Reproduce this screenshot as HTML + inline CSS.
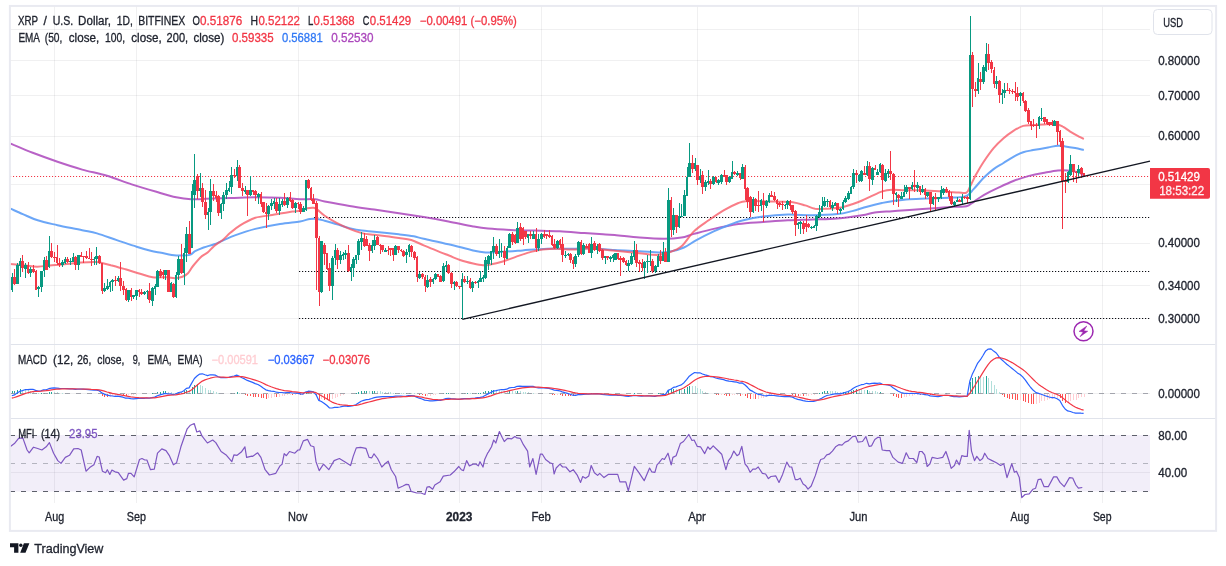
<!DOCTYPE html>
<html><head><meta charset="utf-8"><title>XRP chart</title>
<style>html,body{margin:0;padding:0;background:#fff;}body{width:1226px;height:566px;overflow:hidden;font-family:"Liberation Sans",sans-serif;}svg{display:block;will-change:transform}</style>
</head><body>
<svg width="1226" height="566" viewBox="0 0 1226 566"><g shape-rendering="crispEdges">
<line x1="54.50" y1="6.00" x2="54.50" y2="502.50" stroke="#6a6d78" stroke-opacity="0.1" stroke-width="1" />
<line x1="136.50" y1="6.00" x2="136.50" y2="502.50" stroke="#6a6d78" stroke-opacity="0.1" stroke-width="1" />
<line x1="298.50" y1="6.00" x2="298.50" y2="502.50" stroke="#6a6d78" stroke-opacity="0.1" stroke-width="1" />
<line x1="459.50" y1="6.00" x2="459.50" y2="502.50" stroke="#6a6d78" stroke-opacity="0.1" stroke-width="1" />
<line x1="541.50" y1="6.00" x2="541.50" y2="502.50" stroke="#6a6d78" stroke-opacity="0.1" stroke-width="1" />
<line x1="697.50" y1="6.00" x2="697.50" y2="502.50" stroke="#6a6d78" stroke-opacity="0.1" stroke-width="1" />
<line x1="858.50" y1="6.00" x2="858.50" y2="502.50" stroke="#6a6d78" stroke-opacity="0.1" stroke-width="1" />
<line x1="1020.50" y1="6.00" x2="1020.50" y2="502.50" stroke="#6a6d78" stroke-opacity="0.1" stroke-width="1" />
<line x1="1102.50" y1="6.00" x2="1102.50" y2="502.50" stroke="#6a6d78" stroke-opacity="0.1" stroke-width="1" />
<line x1="10.00" y1="29.50" x2="1150.00" y2="29.50" stroke="#6a6d78" stroke-opacity="0.1" stroke-width="1" />
<line x1="10.00" y1="60.50" x2="1150.00" y2="60.50" stroke="#6a6d78" stroke-opacity="0.1" stroke-width="1" />
<line x1="10.00" y1="95.50" x2="1150.00" y2="95.50" stroke="#6a6d78" stroke-opacity="0.1" stroke-width="1" />
<line x1="10.00" y1="136.50" x2="1150.00" y2="136.50" stroke="#6a6d78" stroke-opacity="0.1" stroke-width="1" />
<line x1="10.00" y1="184.50" x2="1150.00" y2="184.50" stroke="#6a6d78" stroke-opacity="0.1" stroke-width="1" />
<line x1="10.00" y1="243.00" x2="1150.00" y2="243.00" stroke="#6a6d78" stroke-opacity="0.1" stroke-width="1" />
<line x1="10.00" y1="285.50" x2="1150.00" y2="285.50" stroke="#6a6d78" stroke-opacity="0.1" stroke-width="1" />
<line x1="10.00" y1="318.00" x2="1150.00" y2="318.00" stroke="#6a6d78" stroke-opacity="0.1" stroke-width="1" />
<line x1="10.00" y1="393.50" x2="1150.00" y2="393.50" stroke="#6a6d78" stroke-opacity="0.1" stroke-width="1" />
<line x1="10.00" y1="472.50" x2="1150.00" y2="472.50" stroke="#6a6d78" stroke-opacity="0.1" stroke-width="1" />
</g>
<rect x="10" y="435" width="1140" height="56.5" fill="#7e57c2" fill-opacity="0.1"/>
<g shape-rendering="crispEdges">
<line x1="10.00" y1="344.50" x2="1216.50" y2="344.50" stroke="#e0e3eb" stroke-width="1" />
<line x1="10.00" y1="418.50" x2="1216.50" y2="418.50" stroke="#e0e3eb" stroke-width="1" />
</g>
<line x1="314.00" y1="217.50" x2="1150.00" y2="217.50" stroke="#0c0e15" stroke-width="1.1" stroke-dasharray="1.2 1.8"/>
<line x1="299.00" y1="271.50" x2="1150.00" y2="271.50" stroke="#0c0e15" stroke-width="1.1" stroke-dasharray="1.2 1.8"/>
<line x1="299.00" y1="318.50" x2="1150.00" y2="318.50" stroke="#0c0e15" stroke-width="1.1" stroke-dasharray="1.2 1.8"/>
<line x1="10.00" y1="176.50" x2="1150.00" y2="176.50" stroke="#f23645" stroke-width="1.05" stroke-dasharray="1.1 1.9"/>
<path d="M10.5,143.6 C14.2,145.1 24.9,149.8 32.7,152.8 C40.5,155.8 49.2,158.9 57.5,161.7 C65.8,164.5 74.0,167.2 82.2,169.6 C90.5,171.9 98.8,173.3 107.0,175.8 C115.2,178.3 123.5,181.7 131.7,184.4 C139.9,187.1 149.0,189.7 156.4,191.8 C163.8,194.0 170.4,196.1 176.2,197.3 C182.0,198.6 186.1,199.1 191.0,199.3 C195.9,199.6 199.3,199.0 205.9,198.8 C212.5,198.6 222.4,198.2 230.6,198.0 C238.8,197.8 247.1,197.3 255.3,197.3 C263.5,197.3 272.6,197.5 280.0,197.8 C287.4,198.1 294.2,199.0 300.0,199.2 C305.8,199.4 310.7,198.8 314.8,199.2 C318.9,199.6 318.9,200.3 324.7,201.4 C330.5,202.5 341.2,204.5 349.5,205.9 C357.8,207.3 366.0,208.4 374.2,209.6 C382.4,210.8 390.6,212.1 398.9,213.3 C407.1,214.5 415.4,215.7 423.7,217.0 C431.9,218.3 440.2,219.8 448.4,221.4 C456.6,223.0 466.5,225.2 473.1,226.4 C479.7,227.6 481.8,228.0 488.0,228.6 C494.2,229.2 502.4,229.6 510.2,229.9 C518.0,230.2 526.8,230.4 535.0,230.6 C543.2,230.8 551.5,230.9 559.7,231.3 C567.9,231.7 577.2,232.6 584.4,233.1 C591.6,233.6 598.0,234.0 603.0,234.3 C608.0,234.6 608.6,234.6 614.7,235.1 C620.8,235.6 631.2,237.0 639.5,237.6 C647.8,238.2 657.2,238.8 664.2,238.8 C671.2,238.8 676.5,238.4 681.5,237.6 C686.5,236.8 688.5,235.3 693.9,233.9 C699.3,232.5 706.3,230.6 713.7,228.9 C721.1,227.2 730.2,225.2 738.4,224.0 C746.6,222.8 754.9,222.6 763.1,222.0 C771.4,221.4 779.6,220.7 787.9,220.3 C796.1,219.9 804.4,219.8 812.6,219.5 C820.8,219.2 829.0,219.2 837.3,218.5 C845.5,217.8 855.9,216.3 862.1,215.3 C868.4,214.3 869.8,213.1 874.8,212.4 C879.8,211.7 886.4,211.6 892.2,211.2 C898.0,210.8 902.5,210.5 909.5,210.0 C916.5,209.5 926.8,208.8 934.2,208.2 C941.6,207.6 948.6,207.0 954.0,206.7 C959.4,206.4 963.1,207.1 966.4,206.3 C969.7,205.5 970.9,203.7 973.8,201.8 C976.7,199.9 979.6,197.4 983.7,195.1 C987.8,192.8 993.5,190.0 998.5,187.7 C1003.5,185.3 1008.4,182.9 1013.4,181.0 C1018.4,179.1 1023.3,177.4 1028.2,176.1 C1033.1,174.8 1038.0,173.8 1043.0,172.9 C1048.0,172.0 1053.8,170.8 1057.9,170.4 C1062.0,170.0 1064.5,170.1 1067.8,170.4 C1071.1,170.7 1075.0,171.3 1077.7,172.1 C1080.4,172.9 1082.8,174.8 1083.8,175.3" fill="none" stroke="#ab47bc" stroke-width="2" stroke-opacity="0.85" stroke-linecap="butt"/>
<path d="M10.5,208.7 C12.6,209.6 18.3,212.2 22.8,214.1 C27.3,216.0 31.9,218.5 37.7,220.3 C43.5,222.2 50.1,223.5 57.5,225.2 C64.9,226.8 75.6,228.8 82.2,230.2 C88.8,231.6 91.2,231.8 97.0,233.4 C102.8,235.1 110.2,237.9 116.8,240.1 C123.4,242.3 131.0,244.9 136.6,246.7 C142.2,248.5 146.5,249.7 150.6,250.7 C154.7,251.7 157.7,252.1 161.2,252.8 C164.7,253.5 168.6,254.5 171.8,254.9 C175.0,255.3 177.3,255.5 180.3,255.5 C183.3,255.5 187.3,255.6 189.8,254.9 C192.3,254.2 192.8,252.4 195.1,251.2 C197.4,250.0 200.4,248.7 203.6,247.5 C206.8,246.3 211.0,245.5 214.2,244.3 C217.4,243.2 219.1,242.1 222.7,240.6 C226.3,239.1 230.2,237.0 235.6,235.1 C241.0,233.2 247.9,230.8 255.3,228.9 C262.7,227.1 272.6,225.2 280.0,224.0 C287.4,222.8 295.0,222.2 300.0,221.4 C305.0,220.6 307.0,219.4 309.9,219.0 C312.8,218.6 314.8,218.7 317.3,219.0 C319.8,219.3 321.4,219.8 324.7,220.7 C328.0,221.6 333.0,223.2 337.1,224.4 C341.2,225.6 345.4,227.1 349.5,228.1 C353.6,229.1 357.7,230.0 361.8,230.6 C365.9,231.2 368.0,231.2 374.2,231.8 C380.4,232.4 392.3,233.6 398.9,234.3 C405.5,235.1 409.7,235.6 413.8,236.3 C417.9,237.1 417.9,237.5 423.7,238.8 C429.5,240.1 440.2,242.3 448.4,244.2 C456.6,246.1 466.9,249.0 473.1,250.4 C479.3,251.8 481.4,252.1 485.5,252.4 C489.6,252.7 491.7,252.4 497.9,252.1 C504.1,251.8 514.4,251.0 522.6,250.4 C530.8,249.8 539.1,249.0 547.3,248.7 C555.5,248.4 564.9,248.8 572.0,248.7 C579.1,248.6 582.9,248.0 590.0,248.2 C597.1,248.4 606.5,249.5 614.7,250.0 C623.0,250.5 632.1,250.8 639.5,251.2 C646.9,251.6 653.9,252.4 659.3,252.4 C664.6,252.4 667.5,252.0 671.6,251.2 C675.7,250.4 679.9,249.3 684.0,247.5 C688.1,245.7 691.4,242.8 696.4,240.1 C701.4,237.4 708.4,233.9 713.7,231.4 C719.1,228.9 723.5,227.0 728.5,225.2 C733.5,223.3 737.6,221.7 743.4,220.3 C749.2,218.9 755.7,217.6 763.1,216.6 C770.5,215.6 779.6,214.8 787.9,214.6 C796.1,214.4 804.4,215.4 812.6,215.3 C820.8,215.2 830.7,214.8 837.3,214.1 C843.9,213.4 847.2,212.3 852.2,211.1 C857.2,209.9 862.0,208.0 867.0,206.7 C872.0,205.3 877.7,203.9 881.9,203.0 C886.1,202.1 887.4,201.8 892.0,201.2 C896.6,200.6 902.5,199.8 909.5,199.3 C916.5,198.8 926.8,198.6 934.2,198.3 C941.6,198.0 948.6,198.0 954.0,197.6 C959.4,197.2 963.1,197.3 966.4,195.9 C969.7,194.5 970.9,191.9 973.8,188.9 C976.7,185.9 980.4,181.1 983.7,177.8 C987.0,174.5 990.3,171.6 993.6,169.1 C996.9,166.6 1000.2,165.1 1003.5,163.0 C1006.8,160.9 1010.1,158.6 1013.4,156.8 C1016.7,155.0 1019.9,153.4 1023.2,152.3 C1026.5,151.2 1029.0,150.9 1033.1,150.1 C1037.2,149.3 1043.9,148.1 1048.0,147.4 C1052.1,146.7 1055.0,145.9 1057.9,145.7 C1060.8,145.5 1062.4,146.0 1065.3,146.4 C1068.2,146.8 1072.1,147.5 1075.2,148.1 C1078.3,148.7 1082.4,149.8 1083.8,150.1" fill="none" stroke="#5b9cf6" stroke-width="2" stroke-opacity="0.9" stroke-linecap="butt"/>
<path d="M10.2,264.1 C12.3,264.3 18.2,264.8 22.7,265.2 C27.2,265.6 32.5,266.7 37.4,266.7 C42.3,266.7 47.1,265.6 52.0,265.2 C56.9,264.8 61.8,264.5 66.7,264.1 C71.6,263.7 76.5,263.0 81.4,262.6 C86.3,262.2 92.7,261.9 96.1,262.0 C99.5,262.1 99.5,262.5 102.0,263.0 C104.5,263.5 106.9,264.1 110.8,265.2 C114.7,266.2 120.6,267.9 125.5,269.3 C130.4,270.7 135.6,272.4 140.1,273.7 C144.6,275.0 148.3,276.6 152.7,277.2 C157.1,277.8 162.8,277.0 166.5,277.2 C170.2,277.4 172.3,278.3 175.0,278.2 C177.7,278.1 180.3,277.5 182.4,276.7 C184.5,275.9 185.9,275.3 187.7,273.5 C189.5,271.7 190.7,268.8 193.0,266.0 C195.3,263.2 199.0,258.8 201.5,256.5 C204.0,254.2 205.8,254.1 207.9,252.3 C210.0,250.5 211.7,248.0 214.2,245.9 C216.7,243.8 220.0,242.2 222.7,240.0 C225.4,237.8 227.6,235.1 230.6,232.6 C233.6,230.1 236.4,227.7 240.5,225.2 C244.6,222.7 250.4,219.5 255.3,217.8 C260.2,216.2 266.1,216.0 270.2,215.3 C274.3,214.6 276.3,214.2 280.0,213.6 C283.7,213.0 289.1,212.1 292.4,211.6 C295.7,211.1 297.5,211.4 300.0,210.8 C302.5,210.2 305.1,208.8 307.4,208.3 C309.7,207.8 312.0,207.6 313.6,207.8 C315.2,208.0 315.5,208.3 317.3,209.6 C319.1,210.9 321.4,213.5 324.7,215.8 C328.0,218.1 333.0,221.0 337.1,223.2 C341.2,225.4 345.4,227.2 349.5,228.9 C353.6,230.6 357.7,232.1 361.8,233.1 C365.9,234.1 370.1,234.3 374.2,234.8 C378.3,235.3 382.5,235.8 386.6,236.3 C390.7,236.8 394.8,237.4 398.9,238.0 C403.0,238.6 407.2,238.8 411.3,240.0 C415.4,241.2 419.6,243.7 423.7,245.4 C427.8,247.1 431.9,248.8 436.0,250.4 C440.1,252.1 444.3,253.7 448.4,255.3 C452.5,256.9 456.7,258.9 460.8,260.3 C464.9,261.7 469.4,262.7 473.1,263.5 C476.8,264.3 480.1,265.0 483.0,265.2 C485.9,265.4 487.1,265.1 490.4,264.5 C493.7,263.9 498.7,262.7 502.8,261.5 C506.9,260.3 511.1,258.5 515.2,257.1 C519.3,255.7 523.0,254.2 527.5,252.9 C532.0,251.7 537.4,250.3 542.4,249.6 C547.4,248.9 552.3,248.7 557.2,248.7 C562.1,248.7 566.5,249.6 572.0,249.6 C577.5,249.6 582.9,248.4 590.0,248.6 C597.1,248.8 606.5,249.9 614.7,250.7 C623.0,251.5 632.5,252.5 639.5,253.2 C646.5,253.9 651.9,255.0 656.8,254.9 C661.7,254.8 665.0,253.8 669.1,252.4 C673.2,251.0 677.4,249.8 681.5,246.3 C685.6,242.8 689.4,235.7 693.9,231.4 C698.4,227.1 703.8,223.8 708.7,220.3 C713.7,216.8 718.7,213.3 723.6,210.4 C728.5,207.5 734.7,204.5 738.4,203.0 C742.1,201.5 741.7,201.5 745.8,201.2 C749.9,200.9 757.7,201.1 763.1,201.2 C768.5,201.3 773.0,201.5 778.0,201.7 C783.0,201.9 788.3,201.6 792.8,202.2 C797.3,202.8 801.5,204.3 805.2,205.4 C808.9,206.5 811.4,208.1 815.1,208.7 C818.8,209.2 823.0,208.9 827.5,208.7 C832.0,208.4 838.2,207.9 842.3,207.2 C846.4,206.4 848.9,205.3 852.2,204.2 C855.5,203.1 859.2,201.7 862.1,200.5 C865.0,199.3 866.5,198.4 869.9,196.9 C873.3,195.4 878.6,192.6 882.3,191.4 C886.0,190.2 888.5,189.9 892.2,189.7 C895.9,189.5 900.0,190.1 904.5,190.2 C909.0,190.3 914.4,190.1 919.4,190.2 C924.4,190.3 929.3,190.6 934.2,190.9 C939.1,191.2 944.9,191.6 949.0,191.9 C953.1,192.2 956.0,192.5 958.9,192.6 C961.8,192.7 964.5,193.6 966.4,192.6 C968.3,191.6 968.5,189.6 970.1,186.5 C971.8,183.4 974.0,178.2 976.3,174.1 C978.6,170.0 980.8,166.0 983.7,161.7 C986.6,157.4 990.3,152.0 993.6,148.1 C996.9,144.2 1000.2,141.1 1003.5,138.2 C1006.8,135.3 1010.1,132.9 1013.4,130.8 C1016.7,128.8 1019.9,126.9 1023.2,125.9 C1026.5,125.0 1029.8,125.3 1033.1,125.1 C1036.4,124.9 1039.3,124.8 1043.0,124.6 C1046.7,124.4 1052.1,123.8 1055.4,124.1 C1058.7,124.4 1060.3,125.3 1062.8,126.6 C1065.3,127.8 1067.7,130.1 1070.2,131.6 C1072.7,133.1 1075.4,134.6 1077.7,135.8 C1080.0,137.0 1082.8,138.5 1083.8,139.0" fill="none" stroke="#f7525f" stroke-width="2" stroke-opacity="0.75" stroke-linecap="butt"/>
<g shape-rendering="crispEdges">
<rect x="12" y="273.3" width="1" height="18.4" fill="#089981"/>
<rect x="11" y="277.0" width="2" height="13.2" fill="#089981"/>
<rect x="14" y="268.9" width="1" height="16.2" fill="#f23645"/>
<rect x="13" y="277.0" width="3" height="7.3" fill="#f23645"/>
<rect x="17" y="263.0" width="1" height="21.3" fill="#089981"/>
<rect x="16" y="265.2" width="3" height="18.4" fill="#089981"/>
<rect x="20" y="257.9" width="1" height="19.1" fill="#089981"/>
<rect x="19" y="260.8" width="2" height="5.1" fill="#089981"/>
<rect x="22" y="255.0" width="1" height="16.9" fill="#f23645"/>
<rect x="21" y="260.8" width="3" height="7.3" fill="#f23645"/>
<rect x="25" y="263.0" width="1" height="15.4" fill="#089981"/>
<rect x="24" y="264.5" width="3" height="4.4" fill="#089981"/>
<rect x="28" y="261.6" width="1" height="12.5" fill="#f23645"/>
<rect x="27" y="264.5" width="2" height="8.1" fill="#f23645"/>
<rect x="30" y="267.4" width="1" height="9.5" fill="#089981"/>
<rect x="29" y="268.9" width="3" height="3.7" fill="#089981"/>
<rect x="33" y="265.2" width="1" height="7.3" fill="#f23645"/>
<rect x="32" y="268.9" width="3" height="2.9" fill="#f23645"/>
<rect x="36" y="270.4" width="1" height="19.8" fill="#f23645"/>
<rect x="35" y="271.1" width="2" height="18.4" fill="#f23645"/>
<rect x="38" y="285.8" width="1" height="11.0" fill="#089981"/>
<rect x="37" y="286.5" width="3" height="2.9" fill="#089981"/>
<rect x="41" y="271.1" width="1" height="21.3" fill="#089981"/>
<rect x="40" y="271.1" width="3" height="15.4" fill="#089981"/>
<rect x="44" y="257.2" width="1" height="19.8" fill="#089981"/>
<rect x="43" y="260.1" width="2" height="11.0" fill="#089981"/>
<rect x="46" y="256.4" width="1" height="13.9" fill="#f23645"/>
<rect x="45" y="260.1" width="3" height="9.5" fill="#f23645"/>
<rect x="49" y="235.9" width="1" height="31.6" fill="#089981"/>
<rect x="48" y="251.3" width="2" height="15.4" fill="#089981"/>
<rect x="51" y="243.2" width="1" height="14.7" fill="#f23645"/>
<rect x="50" y="251.3" width="3" height="5.9" fill="#f23645"/>
<rect x="54" y="252.0" width="1" height="9.5" fill="#f23645"/>
<rect x="53" y="257.2" width="3" height="1.0" fill="#f23645"/>
<rect x="57" y="245.4" width="1" height="19.8" fill="#f23645"/>
<rect x="56" y="257.2" width="2" height="5.9" fill="#f23645"/>
<rect x="59" y="257.9" width="1" height="9.5" fill="#f23645"/>
<rect x="58" y="263.0" width="3" height="1.5" fill="#f23645"/>
<rect x="62" y="260.1" width="1" height="6.6" fill="#089981"/>
<rect x="61" y="261.6" width="3" height="3.7" fill="#089981"/>
<rect x="65" y="257.2" width="1" height="6.6" fill="#089981"/>
<rect x="64" y="258.6" width="2" height="4.4" fill="#089981"/>
<rect x="67" y="257.2" width="1" height="5.9" fill="#f23645"/>
<rect x="66" y="259.4" width="3" height="2.9" fill="#f23645"/>
<rect x="70" y="257.9" width="1" height="6.6" fill="#089981"/>
<rect x="69" y="260.8" width="3" height="1.5" fill="#089981"/>
<rect x="73" y="252.8" width="1" height="8.8" fill="#089981"/>
<rect x="72" y="257.2" width="2" height="4.4" fill="#089981"/>
<rect x="75" y="255.7" width="1" height="13.9" fill="#f23645"/>
<rect x="74" y="257.2" width="3" height="8.1" fill="#f23645"/>
<rect x="78" y="255.0" width="1" height="15.4" fill="#089981"/>
<rect x="77" y="255.0" width="3" height="10.3" fill="#089981"/>
<rect x="81" y="252.0" width="1" height="5.1" fill="#f23645"/>
<rect x="80" y="255.0" width="2" height="1.5" fill="#f23645"/>
<rect x="83" y="255.7" width="1" height="7.3" fill="#f23645"/>
<rect x="82" y="256.4" width="3" height="1.0" fill="#f23645"/>
<rect x="86" y="250.6" width="1" height="8.1" fill="#f23645"/>
<rect x="85" y="256.4" width="3" height="1.5" fill="#f23645"/>
<rect x="89" y="247.6" width="1" height="11.7" fill="#f23645"/>
<rect x="88" y="257.9" width="2" height="1.0" fill="#f23645"/>
<rect x="91" y="252.0" width="1" height="13.9" fill="#f23645"/>
<rect x="90" y="258.6" width="3" height="1.5" fill="#f23645"/>
<rect x="94" y="257.2" width="1" height="8.1" fill="#089981"/>
<rect x="93" y="258.6" width="2" height="1.5" fill="#089981"/>
<rect x="96" y="246.9" width="1" height="17.6" fill="#089981"/>
<rect x="95" y="256.4" width="3" height="2.2" fill="#089981"/>
<rect x="99" y="255.0" width="1" height="8.8" fill="#f23645"/>
<rect x="98" y="255.7" width="3" height="7.3" fill="#f23645"/>
<rect x="102" y="263.0" width="1" height="30.8" fill="#f23645"/>
<rect x="101" y="263.0" width="2" height="27.9" fill="#f23645"/>
<rect x="104" y="282.9" width="1" height="8.8" fill="#089981"/>
<rect x="103" y="288.0" width="3" height="2.9" fill="#089981"/>
<rect x="107" y="279.2" width="1" height="10.3" fill="#089981"/>
<rect x="106" y="285.8" width="3" height="2.9" fill="#089981"/>
<rect x="110" y="281.4" width="1" height="11.0" fill="#089981"/>
<rect x="109" y="282.1" width="2" height="4.4" fill="#089981"/>
<rect x="112" y="279.2" width="1" height="11.7" fill="#089981"/>
<rect x="111" y="279.9" width="3" height="2.2" fill="#089981"/>
<rect x="115" y="276.2" width="1" height="9.5" fill="#f23645"/>
<rect x="114" y="279.9" width="3" height="1.5" fill="#f23645"/>
<rect x="118" y="276.2" width="1" height="5.9" fill="#089981"/>
<rect x="117" y="277.7" width="2" height="3.7" fill="#089981"/>
<rect x="120" y="262.3" width="1" height="28.6" fill="#f23645"/>
<rect x="119" y="277.7" width="3" height="8.1" fill="#f23645"/>
<rect x="123" y="280.7" width="1" height="13.9" fill="#f23645"/>
<rect x="122" y="285.8" width="3" height="4.4" fill="#f23645"/>
<rect x="126" y="288.0" width="1" height="12.5" fill="#f23645"/>
<rect x="125" y="288.7" width="2" height="11.0" fill="#f23645"/>
<rect x="128" y="289.5" width="1" height="12.5" fill="#089981"/>
<rect x="127" y="290.2" width="3" height="9.5" fill="#089981"/>
<rect x="131" y="288.0" width="1" height="12.5" fill="#f23645"/>
<rect x="130" y="290.2" width="2" height="6.6" fill="#f23645"/>
<rect x="133" y="294.6" width="1" height="4.4" fill="#089981"/>
<rect x="132" y="295.3" width="3" height="1.5" fill="#089981"/>
<rect x="136" y="289.5" width="1" height="10.3" fill="#089981"/>
<rect x="135" y="290.2" width="3" height="5.9" fill="#089981"/>
<rect x="139" y="288.7" width="1" height="8.1" fill="#f23645"/>
<rect x="138" y="289.5" width="2" height="2.9" fill="#f23645"/>
<rect x="141" y="288.7" width="1" height="6.6" fill="#f23645"/>
<rect x="140" y="291.7" width="3" height="2.2" fill="#f23645"/>
<rect x="144" y="290.9" width="1" height="3.7" fill="#089981"/>
<rect x="143" y="292.4" width="3" height="1.5" fill="#089981"/>
<rect x="147" y="290.2" width="1" height="8.8" fill="#089981"/>
<rect x="146" y="290.9" width="2" height="1.5" fill="#089981"/>
<rect x="149" y="282.9" width="1" height="19.8" fill="#f23645"/>
<rect x="148" y="290.9" width="3" height="9.5" fill="#f23645"/>
<rect x="152" y="287.3" width="1" height="19.1" fill="#089981"/>
<rect x="151" y="288.0" width="3" height="12.5" fill="#089981"/>
<rect x="155" y="283.6" width="1" height="11.0" fill="#089981"/>
<rect x="154" y="285.8" width="2" height="2.9" fill="#089981"/>
<rect x="157" y="269.6" width="1" height="17.6" fill="#089981"/>
<rect x="156" y="271.1" width="3" height="15.4" fill="#089981"/>
<rect x="160" y="268.9" width="1" height="9.5" fill="#f23645"/>
<rect x="159" y="271.1" width="3" height="4.4" fill="#f23645"/>
<rect x="163" y="270.4" width="1" height="8.1" fill="#f23645"/>
<rect x="162" y="271.8" width="2" height="2.9" fill="#f23645"/>
<rect x="165" y="269.6" width="1" height="10.3" fill="#089981"/>
<rect x="164" y="270.4" width="3" height="4.4" fill="#089981"/>
<rect x="168" y="269.6" width="1" height="22.8" fill="#f23645"/>
<rect x="167" y="270.4" width="3" height="21.3" fill="#f23645"/>
<rect x="171" y="282.1" width="1" height="9.5" fill="#089981"/>
<rect x="170" y="282.9" width="2" height="8.8" fill="#089981"/>
<rect x="173" y="282.9" width="1" height="15.4" fill="#f23645"/>
<rect x="172" y="283.6" width="3" height="13.2" fill="#f23645"/>
<rect x="176" y="271.5" width="1" height="26.5" fill="#089981"/>
<rect x="175" y="274.5" width="2" height="22.3" fill="#089981"/>
<rect x="178" y="255.5" width="1" height="24.3" fill="#089981"/>
<rect x="177" y="259.2" width="3" height="15.3" fill="#089981"/>
<rect x="181" y="243.8" width="1" height="29.7" fill="#f23645"/>
<rect x="180" y="259.2" width="3" height="13.8" fill="#f23645"/>
<rect x="184" y="247.5" width="1" height="37.5" fill="#089981"/>
<rect x="183" y="253.3" width="2" height="19.7" fill="#089981"/>
<rect x="186" y="227.0" width="1" height="34.8" fill="#089981"/>
<rect x="185" y="234.2" width="3" height="19.1" fill="#089981"/>
<rect x="189" y="221.3" width="1" height="32.7" fill="#f23645"/>
<rect x="188" y="234.2" width="3" height="19.7" fill="#f23645"/>
<rect x="192" y="184.0" width="1" height="64.0" fill="#089981"/>
<rect x="191" y="190.5" width="2" height="57.0" fill="#089981"/>
<rect x="194" y="154.2" width="1" height="53.8" fill="#089981"/>
<rect x="193" y="180.0" width="3" height="15.0" fill="#089981"/>
<rect x="197" y="174.0" width="1" height="24.7" fill="#f23645"/>
<rect x="196" y="176.1" width="3" height="14.8" fill="#f23645"/>
<rect x="200" y="172.6" width="1" height="24.0" fill="#089981"/>
<rect x="199" y="188.2" width="2" height="2.8" fill="#089981"/>
<rect x="202" y="183.2" width="1" height="23.3" fill="#f23645"/>
<rect x="201" y="188.2" width="3" height="13.4" fill="#f23645"/>
<rect x="205" y="190.3" width="1" height="29.0" fill="#f23645"/>
<rect x="204" y="201.6" width="3" height="13.4" fill="#f23645"/>
<rect x="208" y="208.0" width="1" height="22.0" fill="#089981"/>
<rect x="207" y="212.2" width="2" height="2.8" fill="#089981"/>
<rect x="210" y="179.0" width="1" height="45.9" fill="#089981"/>
<rect x="209" y="191.0" width="3" height="21.2" fill="#089981"/>
<rect x="213" y="183.9" width="1" height="17.0" fill="#f23645"/>
<rect x="212" y="191.0" width="3" height="4.9" fill="#f23645"/>
<rect x="216" y="191.0" width="1" height="10.6" fill="#f23645"/>
<rect x="215" y="195.2" width="2" height="2.8" fill="#f23645"/>
<rect x="218" y="195.2" width="1" height="20.5" fill="#f23645"/>
<rect x="217" y="195.9" width="3" height="17.0" fill="#f23645"/>
<rect x="221" y="203.0" width="1" height="15.5" fill="#089981"/>
<rect x="220" y="203.7" width="2" height="9.2" fill="#089981"/>
<rect x="223" y="192.4" width="1" height="18.4" fill="#089981"/>
<rect x="222" y="195.2" width="3" height="9.2" fill="#089981"/>
<rect x="226" y="183.2" width="1" height="15.5" fill="#089981"/>
<rect x="225" y="190.3" width="3" height="4.9" fill="#089981"/>
<rect x="229" y="181.1" width="1" height="10.6" fill="#089981"/>
<rect x="228" y="187.5" width="2" height="3.5" fill="#089981"/>
<rect x="231" y="167.0" width="1" height="26.9" fill="#089981"/>
<rect x="230" y="175.4" width="3" height="12.0" fill="#089981"/>
<rect x="234" y="169.1" width="1" height="8.5" fill="#f23645"/>
<rect x="233" y="175.4" width="3" height="1.0" fill="#f23645"/>
<rect x="237" y="159.9" width="1" height="21.2" fill="#089981"/>
<rect x="236" y="167.0" width="2" height="9.2" fill="#089981"/>
<rect x="239" y="164.8" width="1" height="23.3" fill="#f23645"/>
<rect x="238" y="167.0" width="3" height="20.5" fill="#f23645"/>
<rect x="242" y="183.2" width="1" height="12.7" fill="#f23645"/>
<rect x="241" y="187.5" width="3" height="3.5" fill="#f23645"/>
<rect x="245" y="186.0" width="1" height="7.8" fill="#089981"/>
<rect x="244" y="190.3" width="2" height="1.4" fill="#089981"/>
<rect x="247" y="190.3" width="1" height="26.1" fill="#f23645"/>
<rect x="246" y="190.3" width="3" height="4.9" fill="#f23645"/>
<rect x="250" y="176.1" width="1" height="19.8" fill="#089981"/>
<rect x="249" y="190.3" width="3" height="4.9" fill="#089981"/>
<rect x="253" y="189.6" width="1" height="5.7" fill="#f23645"/>
<rect x="252" y="190.3" width="2" height="1.4" fill="#f23645"/>
<rect x="255" y="190.3" width="1" height="10.6" fill="#f23645"/>
<rect x="254" y="191.0" width="3" height="4.2" fill="#f23645"/>
<rect x="258" y="193.1" width="1" height="10.6" fill="#089981"/>
<rect x="257" y="193.8" width="3" height="2.8" fill="#089981"/>
<rect x="261" y="191.7" width="1" height="14.8" fill="#f23645"/>
<rect x="260" y="193.8" width="2" height="9.9" fill="#f23645"/>
<rect x="263" y="202.3" width="1" height="10.6" fill="#f23645"/>
<rect x="262" y="202.3" width="3" height="9.9" fill="#f23645"/>
<rect x="266" y="203.0" width="1" height="24.7" fill="#f23645"/>
<rect x="265" y="211.5" width="2" height="2.1" fill="#f23645"/>
<rect x="268" y="205.1" width="1" height="14.8" fill="#089981"/>
<rect x="267" y="205.8" width="3" height="7.8" fill="#089981"/>
<rect x="271" y="198.8" width="1" height="11.3" fill="#089981"/>
<rect x="270" y="203.0" width="3" height="2.8" fill="#089981"/>
<rect x="274" y="198.1" width="1" height="11.3" fill="#089981"/>
<rect x="273" y="200.9" width="2" height="2.8" fill="#089981"/>
<rect x="276" y="198.1" width="1" height="14.8" fill="#f23645"/>
<rect x="275" y="201.6" width="3" height="9.2" fill="#f23645"/>
<rect x="279" y="198.1" width="1" height="17.0" fill="#089981"/>
<rect x="278" y="204.4" width="3" height="6.4" fill="#089981"/>
<rect x="282" y="198.8" width="1" height="8.5" fill="#089981"/>
<rect x="281" y="200.9" width="2" height="4.2" fill="#089981"/>
<rect x="284" y="193.1" width="1" height="12.7" fill="#f23645"/>
<rect x="283" y="200.9" width="3" height="4.2" fill="#f23645"/>
<rect x="287" y="197.3" width="1" height="10.6" fill="#089981"/>
<rect x="286" y="198.1" width="3" height="7.1" fill="#089981"/>
<rect x="290" y="191.7" width="1" height="9.9" fill="#f23645"/>
<rect x="289" y="197.3" width="2" height="3.5" fill="#f23645"/>
<rect x="292" y="198.8" width="1" height="9.9" fill="#f23645"/>
<rect x="291" y="200.2" width="3" height="7.8" fill="#f23645"/>
<rect x="295" y="201.6" width="1" height="11.3" fill="#089981"/>
<rect x="294" y="203.0" width="3" height="4.9" fill="#089981"/>
<rect x="298" y="201.6" width="1" height="7.8" fill="#f23645"/>
<rect x="297" y="203.0" width="2" height="1.4" fill="#f23645"/>
<rect x="300" y="201.6" width="1" height="12.0" fill="#f23645"/>
<rect x="299" y="203.7" width="3" height="7.8" fill="#f23645"/>
<rect x="303" y="205.8" width="1" height="6.4" fill="#089981"/>
<rect x="302" y="208.0" width="3" height="3.5" fill="#089981"/>
<rect x="306" y="179.7" width="1" height="31.1" fill="#089981"/>
<rect x="305" y="180.4" width="2" height="29.7" fill="#089981"/>
<rect x="308" y="179.0" width="1" height="9.9" fill="#f23645"/>
<rect x="307" y="180.4" width="3" height="7.8" fill="#f23645"/>
<rect x="311" y="186.7" width="1" height="14.1" fill="#f23645"/>
<rect x="310" y="187.5" width="2" height="12.0" fill="#f23645"/>
<rect x="313" y="193.8" width="1" height="10.6" fill="#f23645"/>
<rect x="312" y="198.8" width="3" height="4.9" fill="#f23645"/>
<rect x="316" y="201.0" width="1" height="89.0" fill="#f23645"/>
<rect x="315" y="203.0" width="3" height="35.0" fill="#f23645"/>
<rect x="319" y="236.2" width="1" height="69.3" fill="#f23645"/>
<rect x="318" y="238.4" width="2" height="53.7" fill="#f23645"/>
<rect x="321" y="240.5" width="1" height="52.3" fill="#089981"/>
<rect x="320" y="241.2" width="3" height="50.9" fill="#089981"/>
<rect x="324" y="242.6" width="1" height="22.6" fill="#f23645"/>
<rect x="323" y="245.4" width="3" height="8.5" fill="#f23645"/>
<rect x="327" y="252.5" width="1" height="17.0" fill="#f23645"/>
<rect x="326" y="253.2" width="2" height="15.5" fill="#f23645"/>
<rect x="329" y="263.1" width="1" height="27.6" fill="#f23645"/>
<rect x="328" y="268.0" width="3" height="17.7" fill="#f23645"/>
<rect x="332" y="256.0" width="1" height="43.8" fill="#089981"/>
<rect x="331" y="258.1" width="3" height="27.6" fill="#089981"/>
<rect x="335" y="244.0" width="1" height="21.2" fill="#089981"/>
<rect x="334" y="249.7" width="2" height="8.5" fill="#089981"/>
<rect x="337" y="248.3" width="1" height="20.5" fill="#f23645"/>
<rect x="336" y="249.7" width="3" height="9.9" fill="#f23645"/>
<rect x="340" y="251.1" width="1" height="12.7" fill="#089981"/>
<rect x="339" y="255.3" width="3" height="4.9" fill="#089981"/>
<rect x="343" y="251.8" width="1" height="7.8" fill="#089981"/>
<rect x="342" y="253.9" width="2" height="2.1" fill="#089981"/>
<rect x="345" y="249.7" width="1" height="9.2" fill="#089981"/>
<rect x="344" y="253.2" width="3" height="1.4" fill="#089981"/>
<rect x="348" y="244.7" width="1" height="26.9" fill="#f23645"/>
<rect x="347" y="253.2" width="3" height="17.7" fill="#f23645"/>
<rect x="351" y="263.8" width="1" height="17.0" fill="#089981"/>
<rect x="350" y="267.3" width="2" height="3.5" fill="#089981"/>
<rect x="353" y="257.4" width="1" height="19.1" fill="#089981"/>
<rect x="352" y="258.9" width="3" height="9.2" fill="#089981"/>
<rect x="356" y="254.6" width="1" height="9.2" fill="#089981"/>
<rect x="355" y="255.3" width="2" height="4.2" fill="#089981"/>
<rect x="358" y="239.1" width="1" height="20.5" fill="#089981"/>
<rect x="357" y="241.2" width="3" height="14.1" fill="#089981"/>
<rect x="361" y="232.0" width="1" height="17.7" fill="#089981"/>
<rect x="360" y="238.4" width="3" height="3.5" fill="#089981"/>
<rect x="364" y="233.4" width="1" height="13.4" fill="#f23645"/>
<rect x="363" y="238.4" width="2" height="7.8" fill="#f23645"/>
<rect x="366" y="236.2" width="1" height="9.9" fill="#f23645"/>
<rect x="365" y="239.1" width="3" height="6.4" fill="#f23645"/>
<rect x="369" y="243.3" width="1" height="17.7" fill="#f23645"/>
<rect x="368" y="245.4" width="3" height="5.7" fill="#f23645"/>
<rect x="372" y="239.8" width="1" height="13.4" fill="#089981"/>
<rect x="371" y="244.7" width="2" height="6.4" fill="#089981"/>
<rect x="374" y="234.8" width="1" height="15.5" fill="#089981"/>
<rect x="373" y="239.8" width="3" height="5.7" fill="#089981"/>
<rect x="377" y="235.5" width="1" height="9.9" fill="#f23645"/>
<rect x="376" y="236.9" width="3" height="7.8" fill="#f23645"/>
<rect x="380" y="244.0" width="1" height="9.9" fill="#f23645"/>
<rect x="379" y="244.7" width="2" height="1.4" fill="#f23645"/>
<rect x="382" y="245.4" width="1" height="6.4" fill="#f23645"/>
<rect x="381" y="245.4" width="3" height="4.2" fill="#f23645"/>
<rect x="385" y="248.3" width="1" height="3.5" fill="#089981"/>
<rect x="384" y="249.7" width="3" height="2.1" fill="#089981"/>
<rect x="388" y="246.1" width="1" height="9.2" fill="#f23645"/>
<rect x="387" y="249.7" width="2" height="1.0" fill="#f23645"/>
<rect x="390" y="248.3" width="1" height="7.8" fill="#f23645"/>
<rect x="389" y="248.3" width="3" height="1.4" fill="#f23645"/>
<rect x="393" y="247.5" width="1" height="13.4" fill="#f23645"/>
<rect x="392" y="248.3" width="2" height="6.4" fill="#f23645"/>
<rect x="395" y="245.4" width="1" height="9.9" fill="#089981"/>
<rect x="394" y="246.1" width="3" height="8.5" fill="#089981"/>
<rect x="398" y="246.1" width="1" height="7.1" fill="#f23645"/>
<rect x="397" y="246.1" width="3" height="3.5" fill="#f23645"/>
<rect x="401" y="249.0" width="1" height="2.8" fill="#f23645"/>
<rect x="400" y="249.7" width="2" height="1.4" fill="#f23645"/>
<rect x="403" y="250.4" width="1" height="6.4" fill="#f23645"/>
<rect x="402" y="251.1" width="3" height="4.9" fill="#f23645"/>
<rect x="406" y="249.0" width="1" height="14.1" fill="#089981"/>
<rect x="405" y="251.8" width="3" height="3.5" fill="#089981"/>
<rect x="409" y="244.0" width="1" height="12.7" fill="#089981"/>
<rect x="408" y="245.4" width="2" height="6.4" fill="#089981"/>
<rect x="411" y="245.4" width="1" height="12.0" fill="#f23645"/>
<rect x="410" y="246.1" width="3" height="5.7" fill="#f23645"/>
<rect x="414" y="251.1" width="1" height="8.5" fill="#f23645"/>
<rect x="413" y="251.8" width="3" height="5.7" fill="#f23645"/>
<rect x="417" y="256.0" width="1" height="26.1" fill="#f23645"/>
<rect x="416" y="256.7" width="2" height="20.5" fill="#f23645"/>
<rect x="419" y="272.3" width="1" height="7.1" fill="#089981"/>
<rect x="418" y="273.7" width="3" height="4.2" fill="#089981"/>
<rect x="422" y="273.0" width="1" height="6.4" fill="#f23645"/>
<rect x="421" y="273.7" width="3" height="3.5" fill="#f23645"/>
<rect x="425" y="275.1" width="1" height="17.0" fill="#f23645"/>
<rect x="424" y="276.5" width="2" height="9.9" fill="#f23645"/>
<rect x="427" y="275.1" width="1" height="12.7" fill="#089981"/>
<rect x="426" y="280.1" width="3" height="6.4" fill="#089981"/>
<rect x="430" y="277.2" width="1" height="9.9" fill="#f23645"/>
<rect x="429" y="279.3" width="3" height="2.8" fill="#f23645"/>
<rect x="433" y="277.9" width="1" height="5.7" fill="#089981"/>
<rect x="432" y="278.6" width="2" height="3.5" fill="#089981"/>
<rect x="435" y="273.0" width="1" height="7.1" fill="#089981"/>
<rect x="434" y="274.4" width="3" height="4.9" fill="#089981"/>
<rect x="438" y="273.7" width="1" height="3.5" fill="#f23645"/>
<rect x="437" y="274.4" width="2" height="2.1" fill="#f23645"/>
<rect x="440" y="275.1" width="1" height="7.1" fill="#f23645"/>
<rect x="439" y="275.8" width="3" height="5.7" fill="#f23645"/>
<rect x="443" y="263.1" width="1" height="19.1" fill="#089981"/>
<rect x="442" y="265.9" width="3" height="15.5" fill="#089981"/>
<rect x="446" y="261.0" width="1" height="9.9" fill="#089981"/>
<rect x="445" y="265.2" width="2" height="1.4" fill="#089981"/>
<rect x="448" y="263.8" width="1" height="9.9" fill="#f23645"/>
<rect x="447" y="264.5" width="3" height="8.5" fill="#f23645"/>
<rect x="451" y="272.3" width="1" height="15.5" fill="#f23645"/>
<rect x="450" y="273.0" width="3" height="10.6" fill="#f23645"/>
<rect x="454" y="280.8" width="1" height="9.2" fill="#089981"/>
<rect x="453" y="281.5" width="2" height="2.1" fill="#089981"/>
<rect x="456" y="280.8" width="1" height="6.4" fill="#f23645"/>
<rect x="455" y="281.5" width="3" height="4.9" fill="#f23645"/>
<rect x="459" y="285.7" width="1" height="3.5" fill="#f23645"/>
<rect x="458" y="285.7" width="3" height="1.4" fill="#f23645"/>
<rect x="462" y="273.0" width="1" height="46.3" fill="#089981"/>
<rect x="461" y="279.3" width="2" height="7.8" fill="#089981"/>
<rect x="464" y="275.8" width="1" height="7.1" fill="#f23645"/>
<rect x="463" y="279.3" width="3" height="2.8" fill="#f23645"/>
<rect x="467" y="275.8" width="1" height="7.8" fill="#089981"/>
<rect x="466" y="280.8" width="3" height="1.4" fill="#089981"/>
<rect x="470" y="277.9" width="1" height="11.3" fill="#f23645"/>
<rect x="469" y="280.1" width="2" height="7.8" fill="#f23645"/>
<rect x="472" y="280.9" width="1" height="10.6" fill="#089981"/>
<rect x="471" y="281.6" width="3" height="6.4" fill="#089981"/>
<rect x="475" y="280.9" width="1" height="2.8" fill="#f23645"/>
<rect x="474" y="281.6" width="3" height="1.4" fill="#f23645"/>
<rect x="478" y="280.2" width="1" height="7.8" fill="#089981"/>
<rect x="477" y="280.9" width="2" height="2.1" fill="#089981"/>
<rect x="480" y="271.0" width="1" height="11.3" fill="#089981"/>
<rect x="479" y="278.1" width="3" height="3.5" fill="#089981"/>
<rect x="483" y="275.2" width="1" height="7.1" fill="#089981"/>
<rect x="482" y="277.4" width="2" height="1.4" fill="#089981"/>
<rect x="485" y="256.9" width="1" height="21.9" fill="#089981"/>
<rect x="484" y="259.7" width="3" height="18.4" fill="#089981"/>
<rect x="488" y="254.7" width="1" height="14.8" fill="#089981"/>
<rect x="487" y="255.5" width="3" height="8.5" fill="#089981"/>
<rect x="491" y="251.2" width="1" height="13.4" fill="#089981"/>
<rect x="490" y="251.2" width="2" height="9.2" fill="#089981"/>
<rect x="493" y="237.1" width="1" height="21.9" fill="#089981"/>
<rect x="492" y="246.3" width="3" height="5.7" fill="#089981"/>
<rect x="496" y="244.1" width="1" height="12.0" fill="#f23645"/>
<rect x="495" y="245.6" width="3" height="8.5" fill="#f23645"/>
<rect x="499" y="238.5" width="1" height="19.1" fill="#089981"/>
<rect x="498" y="251.2" width="2" height="2.8" fill="#089981"/>
<rect x="501" y="242.7" width="1" height="14.1" fill="#089981"/>
<rect x="500" y="251.2" width="3" height="1.0" fill="#089981"/>
<rect x="504" y="245.6" width="1" height="19.8" fill="#f23645"/>
<rect x="503" y="251.2" width="3" height="7.1" fill="#f23645"/>
<rect x="507" y="245.6" width="1" height="13.4" fill="#089981"/>
<rect x="506" y="247.7" width="2" height="11.3" fill="#089981"/>
<rect x="509" y="232.8" width="1" height="15.5" fill="#089981"/>
<rect x="508" y="233.5" width="3" height="14.1" fill="#089981"/>
<rect x="512" y="232.1" width="1" height="12.7" fill="#f23645"/>
<rect x="511" y="233.5" width="3" height="8.5" fill="#f23645"/>
<rect x="515" y="234.3" width="1" height="9.9" fill="#f23645"/>
<rect x="514" y="235.0" width="2" height="7.8" fill="#f23645"/>
<rect x="517" y="222.2" width="1" height="21.2" fill="#089981"/>
<rect x="516" y="227.9" width="3" height="14.8" fill="#089981"/>
<rect x="520" y="222.9" width="1" height="17.7" fill="#f23645"/>
<rect x="519" y="227.2" width="3" height="11.3" fill="#f23645"/>
<rect x="523" y="226.5" width="1" height="18.4" fill="#f23645"/>
<rect x="522" y="227.9" width="2" height="11.3" fill="#f23645"/>
<rect x="525" y="230.7" width="1" height="7.8" fill="#f23645"/>
<rect x="524" y="231.4" width="3" height="5.7" fill="#f23645"/>
<rect x="528" y="233.5" width="1" height="9.9" fill="#089981"/>
<rect x="527" y="234.3" width="2" height="3.5" fill="#089981"/>
<rect x="530" y="231.4" width="1" height="7.8" fill="#f23645"/>
<rect x="529" y="234.3" width="3" height="1.4" fill="#f23645"/>
<rect x="533" y="230.7" width="1" height="8.5" fill="#089981"/>
<rect x="532" y="234.3" width="3" height="4.2" fill="#089981"/>
<rect x="536" y="227.9" width="1" height="24.0" fill="#f23645"/>
<rect x="535" y="234.3" width="2" height="14.1" fill="#f23645"/>
<rect x="538" y="233.5" width="1" height="17.7" fill="#089981"/>
<rect x="537" y="239.2" width="3" height="9.2" fill="#089981"/>
<rect x="541" y="232.8" width="1" height="11.3" fill="#089981"/>
<rect x="540" y="233.5" width="3" height="5.7" fill="#089981"/>
<rect x="544" y="230.0" width="1" height="7.8" fill="#f23645"/>
<rect x="543" y="233.5" width="2" height="3.5" fill="#f23645"/>
<rect x="546" y="233.5" width="1" height="5.7" fill="#f23645"/>
<rect x="545" y="234.3" width="3" height="2.1" fill="#f23645"/>
<rect x="549" y="230.0" width="1" height="7.8" fill="#f23645"/>
<rect x="548" y="235.0" width="3" height="2.1" fill="#f23645"/>
<rect x="552" y="235.0" width="1" height="10.6" fill="#f23645"/>
<rect x="551" y="235.7" width="2" height="9.2" fill="#f23645"/>
<rect x="554" y="239.2" width="1" height="9.9" fill="#f23645"/>
<rect x="553" y="244.1" width="3" height="4.2" fill="#f23645"/>
<rect x="557" y="239.9" width="1" height="9.2" fill="#089981"/>
<rect x="556" y="240.6" width="3" height="7.8" fill="#089981"/>
<rect x="560" y="239.2" width="1" height="9.2" fill="#f23645"/>
<rect x="559" y="239.9" width="2" height="4.9" fill="#f23645"/>
<rect x="562" y="237.1" width="1" height="24.7" fill="#f23645"/>
<rect x="561" y="244.1" width="3" height="10.6" fill="#f23645"/>
<rect x="565" y="251.2" width="1" height="7.1" fill="#089981"/>
<rect x="564" y="254.7" width="3" height="1.4" fill="#089981"/>
<rect x="568" y="252.6" width="1" height="3.5" fill="#089981"/>
<rect x="567" y="254.0" width="2" height="1.4" fill="#089981"/>
<rect x="570" y="253.3" width="1" height="9.2" fill="#f23645"/>
<rect x="569" y="254.0" width="3" height="6.4" fill="#f23645"/>
<rect x="573" y="256.9" width="1" height="12.0" fill="#f23645"/>
<rect x="572" y="259.7" width="2" height="4.2" fill="#f23645"/>
<rect x="575" y="254.0" width="1" height="12.7" fill="#089981"/>
<rect x="574" y="255.5" width="3" height="8.5" fill="#089981"/>
<rect x="578" y="241.3" width="1" height="15.5" fill="#089981"/>
<rect x="577" y="242.0" width="3" height="13.4" fill="#089981"/>
<rect x="581" y="239.9" width="1" height="14.8" fill="#f23645"/>
<rect x="580" y="242.0" width="2" height="12.0" fill="#f23645"/>
<rect x="583" y="242.7" width="1" height="12.0" fill="#089981"/>
<rect x="582" y="244.9" width="3" height="9.2" fill="#089981"/>
<rect x="586" y="244.1" width="1" height="4.2" fill="#f23645"/>
<rect x="585" y="245.6" width="3" height="2.1" fill="#f23645"/>
<rect x="589" y="243.4" width="1" height="9.9" fill="#f23645"/>
<rect x="588" y="244.1" width="2" height="8.5" fill="#f23645"/>
<rect x="591" y="237.1" width="1" height="20.5" fill="#089981"/>
<rect x="590" y="244.1" width="3" height="8.5" fill="#089981"/>
<rect x="594" y="240.6" width="1" height="9.9" fill="#f23645"/>
<rect x="593" y="243.4" width="3" height="6.4" fill="#f23645"/>
<rect x="597" y="244.1" width="1" height="9.9" fill="#089981"/>
<rect x="596" y="246.3" width="2" height="3.5" fill="#089981"/>
<rect x="599" y="243.4" width="1" height="8.5" fill="#f23645"/>
<rect x="598" y="244.1" width="3" height="7.1" fill="#f23645"/>
<rect x="602" y="249.1" width="1" height="11.3" fill="#f23645"/>
<rect x="601" y="249.8" width="3" height="8.5" fill="#f23645"/>
<rect x="605" y="256.2" width="1" height="7.8" fill="#089981"/>
<rect x="604" y="256.2" width="2" height="2.1" fill="#089981"/>
<rect x="607" y="255.5" width="1" height="4.2" fill="#f23645"/>
<rect x="606" y="256.2" width="3" height="2.1" fill="#f23645"/>
<rect x="610" y="256.2" width="1" height="5.7" fill="#089981"/>
<rect x="609" y="256.9" width="3" height="2.1" fill="#089981"/>
<rect x="613" y="254.0" width="1" height="7.8" fill="#089981"/>
<rect x="612" y="254.7" width="2" height="2.8" fill="#089981"/>
<rect x="615" y="252.6" width="1" height="7.8" fill="#089981"/>
<rect x="614" y="253.3" width="3" height="6.4" fill="#089981"/>
<rect x="618" y="252.6" width="1" height="7.1" fill="#f23645"/>
<rect x="617" y="253.3" width="2" height="5.7" fill="#f23645"/>
<rect x="620" y="255.5" width="1" height="20.5" fill="#f23645"/>
<rect x="619" y="258.3" width="3" height="1.4" fill="#f23645"/>
<rect x="623" y="256.9" width="1" height="6.4" fill="#f23645"/>
<rect x="622" y="258.3" width="3" height="3.5" fill="#f23645"/>
<rect x="626" y="260.4" width="1" height="5.7" fill="#f23645"/>
<rect x="625" y="261.1" width="2" height="4.2" fill="#f23645"/>
<rect x="628" y="259.9" width="1" height="10.6" fill="#089981"/>
<rect x="627" y="263.1" width="3" height="3.2" fill="#089981"/>
<rect x="631" y="253.0" width="1" height="12.2" fill="#089981"/>
<rect x="630" y="256.2" width="3" height="7.4" fill="#089981"/>
<rect x="634" y="240.8" width="1" height="19.6" fill="#089981"/>
<rect x="633" y="250.4" width="2" height="6.4" fill="#089981"/>
<rect x="636" y="244.0" width="1" height="22.8" fill="#f23645"/>
<rect x="635" y="250.4" width="3" height="12.7" fill="#f23645"/>
<rect x="639" y="259.9" width="1" height="12.2" fill="#f23645"/>
<rect x="638" y="262.0" width="3" height="1.6" fill="#f23645"/>
<rect x="642" y="259.4" width="1" height="11.7" fill="#f23645"/>
<rect x="641" y="263.1" width="2" height="4.8" fill="#f23645"/>
<rect x="644" y="261.0" width="1" height="17.5" fill="#089981"/>
<rect x="643" y="261.5" width="3" height="6.4" fill="#089981"/>
<rect x="647" y="255.1" width="1" height="17.5" fill="#089981"/>
<rect x="646" y="261.0" width="3" height="1.1" fill="#089981"/>
<rect x="650" y="249.8" width="1" height="15.9" fill="#089981"/>
<rect x="649" y="261.0" width="2" height="1.0" fill="#089981"/>
<rect x="652" y="259.4" width="1" height="13.3" fill="#f23645"/>
<rect x="651" y="260.5" width="3" height="10.1" fill="#f23645"/>
<rect x="655" y="265.2" width="1" height="7.4" fill="#089981"/>
<rect x="654" y="266.3" width="3" height="4.8" fill="#089981"/>
<rect x="658" y="254.1" width="1" height="13.3" fill="#089981"/>
<rect x="657" y="255.7" width="2" height="11.1" fill="#089981"/>
<rect x="660" y="250.4" width="1" height="13.3" fill="#f23645"/>
<rect x="659" y="255.7" width="3" height="5.3" fill="#f23645"/>
<rect x="663" y="241.9" width="1" height="19.1" fill="#089981"/>
<rect x="662" y="252.0" width="2" height="8.5" fill="#089981"/>
<rect x="665" y="248.3" width="1" height="13.8" fill="#f23645"/>
<rect x="664" y="252.0" width="3" height="9.5" fill="#f23645"/>
<rect x="668" y="188.2" width="1" height="73.8" fill="#089981"/>
<rect x="667" y="200.0" width="3" height="61.5" fill="#089981"/>
<rect x="671" y="196.9" width="1" height="39.8" fill="#f23645"/>
<rect x="670" y="200.0" width="2" height="29.8" fill="#f23645"/>
<rect x="673" y="208.0" width="1" height="26.5" fill="#089981"/>
<rect x="672" y="215.4" width="3" height="14.4" fill="#089981"/>
<rect x="676" y="215.0" width="1" height="18.0" fill="#f23645"/>
<rect x="675" y="215.0" width="3" height="11.6" fill="#f23645"/>
<rect x="679" y="203.0" width="1" height="24.6" fill="#089981"/>
<rect x="678" y="216.0" width="2" height="11.0" fill="#089981"/>
<rect x="681" y="203.8" width="1" height="13.2" fill="#089981"/>
<rect x="680" y="215.5" width="3" height="1.0" fill="#089981"/>
<rect x="684" y="189.8" width="1" height="26.2" fill="#089981"/>
<rect x="683" y="194.8" width="3" height="20.7" fill="#089981"/>
<rect x="687" y="167.0" width="1" height="28.6" fill="#089981"/>
<rect x="686" y="176.6" width="2" height="19.1" fill="#089981"/>
<rect x="689" y="143.2" width="1" height="33.9" fill="#089981"/>
<rect x="688" y="162.8" width="3" height="13.8" fill="#089981"/>
<rect x="692" y="154.8" width="1" height="18.0" fill="#f23645"/>
<rect x="691" y="162.8" width="3" height="6.4" fill="#f23645"/>
<rect x="695" y="158.0" width="1" height="12.7" fill="#089981"/>
<rect x="694" y="163.3" width="2" height="5.8" fill="#089981"/>
<rect x="697" y="164.9" width="1" height="19.6" fill="#f23645"/>
<rect x="696" y="164.9" width="3" height="14.8" fill="#f23645"/>
<rect x="700" y="169.2" width="1" height="13.8" fill="#089981"/>
<rect x="699" y="175.5" width="2" height="4.2" fill="#089981"/>
<rect x="702" y="170.8" width="1" height="22.8" fill="#f23645"/>
<rect x="701" y="175.0" width="3" height="11.7" fill="#f23645"/>
<rect x="705" y="180.3" width="1" height="10.6" fill="#089981"/>
<rect x="704" y="182.4" width="3" height="4.2" fill="#089981"/>
<rect x="708" y="170.2" width="1" height="14.8" fill="#089981"/>
<rect x="707" y="181.4" width="2" height="1.1" fill="#089981"/>
<rect x="710" y="178.7" width="1" height="10.1" fill="#f23645"/>
<rect x="709" y="180.8" width="3" height="3.2" fill="#f23645"/>
<rect x="713" y="176.1" width="1" height="9.0" fill="#089981"/>
<rect x="712" y="176.6" width="3" height="7.4" fill="#089981"/>
<rect x="716" y="176.6" width="1" height="6.4" fill="#f23645"/>
<rect x="715" y="176.6" width="2" height="5.8" fill="#f23645"/>
<rect x="718" y="179.2" width="1" height="5.3" fill="#089981"/>
<rect x="717" y="179.8" width="3" height="2.7" fill="#089981"/>
<rect x="721" y="173.9" width="1" height="10.1" fill="#089981"/>
<rect x="720" y="175.0" width="3" height="6.9" fill="#089981"/>
<rect x="724" y="170.2" width="1" height="6.9" fill="#f23645"/>
<rect x="723" y="175.0" width="2" height="1.6" fill="#f23645"/>
<rect x="726" y="175.0" width="1" height="9.5" fill="#f23645"/>
<rect x="725" y="175.0" width="3" height="6.9" fill="#f23645"/>
<rect x="729" y="176.1" width="1" height="6.9" fill="#089981"/>
<rect x="728" y="177.1" width="3" height="4.8" fill="#089981"/>
<rect x="732" y="161.2" width="1" height="17.5" fill="#089981"/>
<rect x="731" y="172.3" width="2" height="6.4" fill="#089981"/>
<rect x="734" y="170.8" width="1" height="4.2" fill="#f23645"/>
<rect x="733" y="172.3" width="3" height="2.1" fill="#f23645"/>
<rect x="737" y="171.3" width="1" height="4.2" fill="#089981"/>
<rect x="736" y="173.4" width="3" height="1.6" fill="#089981"/>
<rect x="740" y="172.9" width="1" height="6.9" fill="#f23645"/>
<rect x="739" y="173.4" width="2" height="4.8" fill="#f23645"/>
<rect x="742" y="163.9" width="1" height="15.4" fill="#089981"/>
<rect x="741" y="167.0" width="3" height="11.7" fill="#089981"/>
<rect x="745" y="164.7" width="1" height="35.3" fill="#f23645"/>
<rect x="744" y="166.5" width="2" height="22.1" fill="#f23645"/>
<rect x="747" y="186.8" width="1" height="21.2" fill="#f23645"/>
<rect x="746" y="187.7" width="3" height="14.1" fill="#f23645"/>
<rect x="750" y="195.6" width="1" height="21.2" fill="#f23645"/>
<rect x="749" y="197.4" width="3" height="15.0" fill="#f23645"/>
<rect x="753" y="197.4" width="1" height="15.9" fill="#089981"/>
<rect x="752" y="199.2" width="2" height="13.2" fill="#089981"/>
<rect x="755" y="198.3" width="1" height="12.4" fill="#f23645"/>
<rect x="754" y="199.2" width="3" height="7.1" fill="#f23645"/>
<rect x="758" y="191.2" width="1" height="20.3" fill="#f23645"/>
<rect x="757" y="204.5" width="3" height="1.8" fill="#f23645"/>
<rect x="761" y="199.2" width="1" height="11.5" fill="#089981"/>
<rect x="760" y="200.0" width="2" height="6.2" fill="#089981"/>
<rect x="763" y="193.0" width="1" height="29.1" fill="#f23645"/>
<rect x="762" y="200.9" width="3" height="4.4" fill="#f23645"/>
<rect x="766" y="200.0" width="1" height="7.9" fill="#089981"/>
<rect x="765" y="200.9" width="3" height="5.3" fill="#089981"/>
<rect x="769" y="193.0" width="1" height="9.7" fill="#089981"/>
<rect x="768" y="194.8" width="2" height="7.1" fill="#089981"/>
<rect x="771" y="191.2" width="1" height="6.2" fill="#f23645"/>
<rect x="770" y="194.8" width="3" height="1.8" fill="#f23645"/>
<rect x="774" y="192.1" width="1" height="8.8" fill="#f23645"/>
<rect x="773" y="195.6" width="3" height="4.4" fill="#f23645"/>
<rect x="777" y="199.2" width="1" height="9.7" fill="#f23645"/>
<rect x="776" y="200.0" width="2" height="3.5" fill="#f23645"/>
<rect x="779" y="201.8" width="1" height="5.3" fill="#f23645"/>
<rect x="778" y="202.7" width="3" height="1.8" fill="#f23645"/>
<rect x="782" y="200.9" width="1" height="8.8" fill="#f23645"/>
<rect x="781" y="203.6" width="3" height="1.8" fill="#f23645"/>
<rect x="785" y="203.6" width="1" height="5.3" fill="#089981"/>
<rect x="784" y="204.5" width="2" height="1.8" fill="#089981"/>
<rect x="787" y="200.0" width="1" height="8.8" fill="#089981"/>
<rect x="786" y="200.9" width="3" height="4.4" fill="#089981"/>
<rect x="790" y="200.0" width="1" height="9.7" fill="#f23645"/>
<rect x="789" y="200.9" width="2" height="5.3" fill="#f23645"/>
<rect x="792" y="204.5" width="1" height="9.7" fill="#f23645"/>
<rect x="791" y="205.3" width="3" height="6.2" fill="#f23645"/>
<rect x="795" y="209.8" width="1" height="26.5" fill="#f23645"/>
<rect x="794" y="210.6" width="3" height="14.1" fill="#f23645"/>
<rect x="798" y="222.1" width="1" height="7.1" fill="#089981"/>
<rect x="797" y="223.0" width="2" height="1.8" fill="#089981"/>
<rect x="800" y="221.2" width="1" height="12.4" fill="#089981"/>
<rect x="799" y="222.1" width="3" height="1.8" fill="#089981"/>
<rect x="803" y="221.2" width="1" height="13.2" fill="#f23645"/>
<rect x="802" y="223.0" width="3" height="6.2" fill="#f23645"/>
<rect x="806" y="215.1" width="1" height="16.8" fill="#f23645"/>
<rect x="805" y="223.0" width="2" height="4.4" fill="#f23645"/>
<rect x="808" y="223.0" width="1" height="5.3" fill="#f23645"/>
<rect x="807" y="223.9" width="3" height="3.5" fill="#f23645"/>
<rect x="811" y="225.7" width="1" height="3.5" fill="#089981"/>
<rect x="810" y="226.5" width="3" height="1.0" fill="#089981"/>
<rect x="814" y="224.8" width="1" height="3.5" fill="#089981"/>
<rect x="813" y="225.7" width="2" height="1.8" fill="#089981"/>
<rect x="816" y="215.1" width="1" height="15.9" fill="#089981"/>
<rect x="815" y="215.9" width="3" height="9.7" fill="#089981"/>
<rect x="819" y="205.3" width="1" height="12.4" fill="#089981"/>
<rect x="818" y="211.5" width="3" height="5.3" fill="#089981"/>
<rect x="822" y="197.4" width="1" height="15.0" fill="#089981"/>
<rect x="821" y="206.2" width="2" height="5.3" fill="#089981"/>
<rect x="824" y="196.5" width="1" height="10.6" fill="#089981"/>
<rect x="823" y="200.9" width="3" height="5.3" fill="#089981"/>
<rect x="827" y="199.2" width="1" height="7.9" fill="#089981"/>
<rect x="826" y="200.9" width="3" height="1.0" fill="#089981"/>
<rect x="830" y="200.1" width="1" height="8.5" fill="#f23645"/>
<rect x="829" y="200.8" width="2" height="6.4" fill="#f23645"/>
<rect x="832" y="201.5" width="1" height="9.9" fill="#089981"/>
<rect x="831" y="205.0" width="3" height="2.8" fill="#089981"/>
<rect x="835" y="202.2" width="1" height="4.2" fill="#089981"/>
<rect x="834" y="202.9" width="2" height="2.8" fill="#089981"/>
<rect x="837" y="202.9" width="1" height="10.6" fill="#f23645"/>
<rect x="836" y="202.9" width="3" height="7.1" fill="#f23645"/>
<rect x="840" y="207.8" width="1" height="6.4" fill="#089981"/>
<rect x="839" y="208.6" width="3" height="2.1" fill="#089981"/>
<rect x="843" y="200.1" width="1" height="9.9" fill="#089981"/>
<rect x="842" y="201.5" width="2" height="7.8" fill="#089981"/>
<rect x="845" y="195.8" width="1" height="7.1" fill="#089981"/>
<rect x="844" y="198.0" width="3" height="4.2" fill="#089981"/>
<rect x="848" y="190.9" width="1" height="9.2" fill="#089981"/>
<rect x="847" y="193.0" width="3" height="6.4" fill="#089981"/>
<rect x="851" y="185.9" width="1" height="8.5" fill="#089981"/>
<rect x="850" y="186.6" width="2" height="7.1" fill="#089981"/>
<rect x="853" y="169.0" width="1" height="19.8" fill="#089981"/>
<rect x="852" y="173.2" width="3" height="14.1" fill="#089981"/>
<rect x="856" y="170.4" width="1" height="12.7" fill="#f23645"/>
<rect x="855" y="173.2" width="3" height="2.1" fill="#f23645"/>
<rect x="859" y="173.9" width="1" height="8.5" fill="#089981"/>
<rect x="858" y="174.6" width="2" height="6.4" fill="#089981"/>
<rect x="861" y="169.7" width="1" height="12.0" fill="#089981"/>
<rect x="860" y="171.1" width="3" height="9.9" fill="#089981"/>
<rect x="864" y="166.1" width="1" height="9.2" fill="#f23645"/>
<rect x="863" y="172.5" width="3" height="2.1" fill="#f23645"/>
<rect x="867" y="160.5" width="1" height="15.5" fill="#089981"/>
<rect x="866" y="166.1" width="2" height="9.2" fill="#089981"/>
<rect x="869" y="161.9" width="1" height="29.0" fill="#f23645"/>
<rect x="868" y="166.1" width="3" height="12.7" fill="#f23645"/>
<rect x="872" y="166.9" width="1" height="18.4" fill="#089981"/>
<rect x="871" y="167.6" width="3" height="12.0" fill="#089981"/>
<rect x="875" y="165.4" width="1" height="4.9" fill="#f23645"/>
<rect x="874" y="167.6" width="2" height="2.1" fill="#f23645"/>
<rect x="877" y="169.0" width="1" height="6.4" fill="#089981"/>
<rect x="876" y="171.8" width="3" height="2.8" fill="#089981"/>
<rect x="880" y="163.3" width="1" height="9.2" fill="#089981"/>
<rect x="879" y="164.0" width="2" height="7.8" fill="#089981"/>
<rect x="882" y="164.0" width="1" height="34.6" fill="#f23645"/>
<rect x="881" y="164.7" width="3" height="15.5" fill="#f23645"/>
<rect x="885" y="169.0" width="1" height="12.7" fill="#089981"/>
<rect x="884" y="173.2" width="3" height="7.8" fill="#089981"/>
<rect x="888" y="169.0" width="1" height="9.2" fill="#089981"/>
<rect x="887" y="171.1" width="2" height="2.8" fill="#089981"/>
<rect x="890" y="151.3" width="1" height="29.0" fill="#f23645"/>
<rect x="889" y="171.1" width="3" height="2.8" fill="#f23645"/>
<rect x="893" y="173.2" width="1" height="31.8" fill="#f23645"/>
<rect x="892" y="173.9" width="3" height="20.5" fill="#f23645"/>
<rect x="896" y="191.6" width="1" height="9.9" fill="#089981"/>
<rect x="895" y="193.0" width="2" height="2.1" fill="#089981"/>
<rect x="898" y="194.4" width="1" height="12.7" fill="#f23645"/>
<rect x="897" y="195.1" width="3" height="2.8" fill="#f23645"/>
<rect x="901" y="191.6" width="1" height="7.8" fill="#089981"/>
<rect x="900" y="195.8" width="3" height="2.8" fill="#089981"/>
<rect x="904" y="185.2" width="1" height="12.0" fill="#089981"/>
<rect x="903" y="191.6" width="2" height="4.9" fill="#089981"/>
<rect x="906" y="185.2" width="1" height="9.2" fill="#089981"/>
<rect x="905" y="187.3" width="3" height="4.2" fill="#089981"/>
<rect x="909" y="186.6" width="1" height="12.0" fill="#f23645"/>
<rect x="908" y="187.3" width="3" height="1.4" fill="#f23645"/>
<rect x="912" y="181.7" width="1" height="7.8" fill="#089981"/>
<rect x="911" y="184.5" width="2" height="4.2" fill="#089981"/>
<rect x="914" y="169.7" width="1" height="22.6" fill="#f23645"/>
<rect x="913" y="184.5" width="3" height="2.8" fill="#f23645"/>
<rect x="917" y="181.7" width="1" height="9.9" fill="#089981"/>
<rect x="916" y="185.2" width="3" height="2.8" fill="#089981"/>
<rect x="920" y="185.9" width="1" height="9.2" fill="#f23645"/>
<rect x="919" y="185.9" width="2" height="5.7" fill="#f23645"/>
<rect x="922" y="185.2" width="1" height="7.8" fill="#089981"/>
<rect x="921" y="188.8" width="3" height="3.5" fill="#089981"/>
<rect x="925" y="188.1" width="1" height="11.3" fill="#f23645"/>
<rect x="924" y="188.8" width="2" height="6.4" fill="#f23645"/>
<rect x="927" y="191.6" width="1" height="4.9" fill="#089981"/>
<rect x="926" y="192.3" width="3" height="3.5" fill="#089981"/>
<rect x="930" y="191.6" width="1" height="20.5" fill="#f23645"/>
<rect x="929" y="192.3" width="3" height="11.3" fill="#f23645"/>
<rect x="933" y="195.8" width="1" height="9.2" fill="#089981"/>
<rect x="932" y="196.5" width="2" height="7.8" fill="#089981"/>
<rect x="935" y="193.0" width="1" height="17.7" fill="#f23645"/>
<rect x="934" y="197.2" width="3" height="1.4" fill="#f23645"/>
<rect x="938" y="196.5" width="1" height="5.7" fill="#089981"/>
<rect x="937" y="197.2" width="3" height="1.4" fill="#089981"/>
<rect x="941" y="185.9" width="1" height="12.7" fill="#089981"/>
<rect x="940" y="190.2" width="2" height="7.8" fill="#089981"/>
<rect x="943" y="188.1" width="1" height="6.4" fill="#089981"/>
<rect x="942" y="188.8" width="3" height="4.2" fill="#089981"/>
<rect x="946" y="187.3" width="1" height="5.7" fill="#f23645"/>
<rect x="945" y="188.8" width="3" height="2.8" fill="#f23645"/>
<rect x="949" y="190.2" width="1" height="10.6" fill="#f23645"/>
<rect x="948" y="190.9" width="2" height="5.7" fill="#f23645"/>
<rect x="951" y="192.3" width="1" height="12.7" fill="#f23645"/>
<rect x="950" y="195.8" width="3" height="8.5" fill="#f23645"/>
<rect x="954" y="200.8" width="1" height="5.7" fill="#089981"/>
<rect x="953" y="201.5" width="3" height="3.5" fill="#089981"/>
<rect x="957" y="197.2" width="1" height="4.9" fill="#089981"/>
<rect x="956" y="200.1" width="2" height="1.4" fill="#089981"/>
<rect x="959" y="199.4" width="1" height="2.8" fill="#f23645"/>
<rect x="958" y="200.1" width="3" height="1.4" fill="#f23645"/>
<rect x="962" y="194.4" width="1" height="9.9" fill="#089981"/>
<rect x="961" y="196.5" width="2" height="5.7" fill="#089981"/>
<rect x="964" y="195.8" width="1" height="2.8" fill="#f23645"/>
<rect x="963" y="196.5" width="3" height="1.4" fill="#f23645"/>
<rect x="967" y="195.8" width="1" height="7.1" fill="#f23645"/>
<rect x="966" y="197.2" width="3" height="2.1" fill="#f23645"/>
<rect x="970" y="16.0" width="1" height="184.0" fill="#089981"/>
<rect x="969" y="55.1" width="2" height="144.3" fill="#089981"/>
<rect x="972" y="52.0" width="1" height="54.5" fill="#f23645"/>
<rect x="971" y="55.1" width="3" height="33.9" fill="#f23645"/>
<rect x="975" y="82.2" width="1" height="14.8" fill="#f23645"/>
<rect x="974" y="88.6" width="3" height="2.1" fill="#f23645"/>
<rect x="978" y="63.1" width="1" height="30.8" fill="#089981"/>
<rect x="977" y="77.9" width="2" height="12.7" fill="#089981"/>
<rect x="980" y="72.1" width="1" height="17.5" fill="#f23645"/>
<rect x="979" y="78.5" width="3" height="3.2" fill="#f23645"/>
<rect x="983" y="65.2" width="1" height="18.6" fill="#089981"/>
<rect x="982" y="66.8" width="3" height="14.8" fill="#089981"/>
<rect x="986" y="43.0" width="1" height="28.6" fill="#089981"/>
<rect x="985" y="54.1" width="2" height="17.0" fill="#089981"/>
<rect x="988" y="44.0" width="1" height="26.0" fill="#f23645"/>
<rect x="987" y="53.6" width="3" height="9.5" fill="#f23645"/>
<rect x="991" y="59.9" width="1" height="12.7" fill="#f23645"/>
<rect x="990" y="62.0" width="3" height="7.4" fill="#f23645"/>
<rect x="994" y="66.8" width="1" height="20.7" fill="#f23645"/>
<rect x="993" y="70.0" width="2" height="13.8" fill="#f23645"/>
<rect x="996" y="76.4" width="1" height="12.2" fill="#089981"/>
<rect x="995" y="81.1" width="3" height="2.7" fill="#089981"/>
<rect x="999" y="80.0" width="1" height="22.8" fill="#f23645"/>
<rect x="998" y="81.1" width="3" height="13.8" fill="#f23645"/>
<rect x="1002" y="89.0" width="1" height="15.4" fill="#089981"/>
<rect x="1001" y="92.7" width="2" height="2.1" fill="#089981"/>
<rect x="1004" y="83.2" width="1" height="14.3" fill="#089981"/>
<rect x="1003" y="89.5" width="3" height="3.2" fill="#089981"/>
<rect x="1007" y="83.2" width="1" height="8.0" fill="#f23645"/>
<rect x="1006" y="89.5" width="2" height="1.1" fill="#f23645"/>
<rect x="1009" y="88.0" width="1" height="5.8" fill="#f23645"/>
<rect x="1008" y="90.1" width="3" height="1.1" fill="#f23645"/>
<rect x="1012" y="89.0" width="1" height="4.8" fill="#f23645"/>
<rect x="1011" y="90.6" width="3" height="1.1" fill="#f23645"/>
<rect x="1015" y="82.1" width="1" height="18.6" fill="#f23645"/>
<rect x="1014" y="91.1" width="2" height="2.1" fill="#f23645"/>
<rect x="1017" y="86.9" width="1" height="13.8" fill="#f23645"/>
<rect x="1016" y="93.3" width="3" height="3.2" fill="#f23645"/>
<rect x="1020" y="92.2" width="1" height="13.3" fill="#089981"/>
<rect x="1019" y="92.7" width="3" height="3.7" fill="#089981"/>
<rect x="1023" y="92.2" width="1" height="11.1" fill="#f23645"/>
<rect x="1022" y="92.7" width="2" height="8.5" fill="#f23645"/>
<rect x="1025" y="99.6" width="1" height="12.7" fill="#f23645"/>
<rect x="1024" y="100.7" width="3" height="10.1" fill="#f23645"/>
<rect x="1028" y="108.1" width="1" height="15.4" fill="#f23645"/>
<rect x="1027" y="110.2" width="3" height="11.7" fill="#f23645"/>
<rect x="1031" y="120.8" width="1" height="9.5" fill="#f23645"/>
<rect x="1030" y="121.4" width="2" height="4.8" fill="#f23645"/>
<rect x="1033" y="119.2" width="1" height="7.4" fill="#f23645"/>
<rect x="1032" y="124.5" width="3" height="1.6" fill="#f23645"/>
<rect x="1036" y="122.9" width="1" height="14.8" fill="#f23645"/>
<rect x="1035" y="125.1" width="3" height="1.1" fill="#f23645"/>
<rect x="1039" y="116.1" width="1" height="13.3" fill="#089981"/>
<rect x="1038" y="117.1" width="2" height="9.0" fill="#089981"/>
<rect x="1041" y="108.1" width="1" height="13.3" fill="#089981"/>
<rect x="1040" y="117.6" width="3" height="1.1" fill="#089981"/>
<rect x="1044" y="117.1" width="1" height="6.9" fill="#f23645"/>
<rect x="1043" y="117.1" width="3" height="5.3" fill="#f23645"/>
<rect x="1047" y="119.2" width="1" height="5.3" fill="#f23645"/>
<rect x="1046" y="119.2" width="2" height="4.8" fill="#f23645"/>
<rect x="1049" y="122.4" width="1" height="3.2" fill="#f23645"/>
<rect x="1048" y="122.4" width="3" height="2.1" fill="#f23645"/>
<rect x="1052" y="120.3" width="1" height="5.3" fill="#f23645"/>
<rect x="1051" y="122.4" width="2" height="2.7" fill="#f23645"/>
<rect x="1054" y="120.3" width="1" height="5.8" fill="#089981"/>
<rect x="1053" y="121.4" width="3" height="4.2" fill="#089981"/>
<rect x="1057" y="120.8" width="1" height="23.9" fill="#f23645"/>
<rect x="1056" y="121.4" width="3" height="10.1" fill="#f23645"/>
<rect x="1060" y="130.4" width="1" height="17.0" fill="#f23645"/>
<rect x="1059" y="130.9" width="2" height="10.6" fill="#f23645"/>
<rect x="1062" y="138.0" width="1" height="91.0" fill="#f23645"/>
<rect x="1061" y="141.0" width="3" height="39.7" fill="#f23645"/>
<rect x="1065" y="173.0" width="1" height="20.0" fill="#f23645"/>
<rect x="1064" y="180.7" width="3" height="1.0" fill="#f23645"/>
<rect x="1068" y="171.0" width="1" height="11.8" fill="#089981"/>
<rect x="1067" y="171.7" width="2" height="10.0" fill="#089981"/>
<rect x="1070" y="155.3" width="1" height="20.7" fill="#089981"/>
<rect x="1069" y="164.2" width="3" height="10.6" fill="#089981"/>
<rect x="1073" y="164.0" width="1" height="17.7" fill="#f23645"/>
<rect x="1072" y="164.2" width="3" height="7.5" fill="#f23645"/>
<rect x="1076" y="171.0" width="1" height="11.8" fill="#f23645"/>
<rect x="1075" y="171.7" width="2" height="1.6" fill="#f23645"/>
<rect x="1078" y="164.8" width="1" height="11.6" fill="#089981"/>
<rect x="1077" y="168.5" width="3" height="4.8" fill="#089981"/>
<rect x="1081" y="167.0" width="1" height="10.5" fill="#f23645"/>
<rect x="1080" y="168.0" width="3" height="6.3" fill="#f23645"/>
<rect x="1084" y="173.0" width="1" height="4.0" fill="#f23645"/>
<rect x="1083" y="173.3" width="2" height="2.7" fill="#f23645"/>
</g>
<line x1="462.30" y1="319.30" x2="1150.00" y2="161.20" stroke="#131722" stroke-width="1.35" />
<g shape-rendering="crispEdges">
<rect x="12" y="391.0" width="1" height="2.5" fill="#26a69a"/>
<rect x="14" y="390.8" width="1" height="2.7" fill="#26a69a"/>
<rect x="17" y="389.9" width="1" height="3.6" fill="#26a69a"/>
<rect x="20" y="389.3" width="1" height="4.2" fill="#26a69a"/>
<rect x="22" y="389.5" width="1" height="4.0" fill="#b2dfdb"/>
<rect x="25" y="389.6" width="1" height="3.9" fill="#b2dfdb"/>
<rect x="28" y="390.3" width="1" height="3.2" fill="#b2dfdb"/>
<rect x="30" y="390.7" width="1" height="2.8" fill="#b2dfdb"/>
<rect x="33" y="391.3" width="1" height="2.2" fill="#b2dfdb"/>
<rect x="36" y="392.6" width="1" height="0.9" fill="#b2dfdb"/>
<rect x="38" y="393.3" width="1" height="0.5" fill="#b2dfdb"/>
<rect x="41" y="393.1" width="1" height="0.5" fill="#26a69a"/>
<rect x="44" y="392.5" width="1" height="1.0" fill="#26a69a"/>
<rect x="46" y="392.6" width="1" height="0.9" fill="#b2dfdb"/>
<rect x="49" y="391.9" width="1" height="1.6" fill="#26a69a"/>
<rect x="51" y="391.8" width="1" height="1.7" fill="#26a69a"/>
<rect x="54" y="392.0" width="1" height="1.5" fill="#b2dfdb"/>
<rect x="57" y="392.4" width="1" height="1.1" fill="#b2dfdb"/>
<rect x="59" y="392.9" width="1" height="0.6" fill="#b2dfdb"/>
<rect x="62" y="393.1" width="1" height="0.5" fill="#b2dfdb"/>
<rect x="65" y="393.1" width="1" height="0.5" fill="#b2dfdb"/>
<rect x="67" y="393.4" width="1" height="0.5" fill="#b2dfdb"/>
<rect x="70" y="393.5" width="1" height="0.5" fill="#ff5252"/>
<rect x="73" y="393.5" width="1" height="0.5" fill="#26a69a"/>
<rect x="75" y="393.5" width="1" height="0.5" fill="#ff5252"/>
<rect x="78" y="393.5" width="1" height="0.5" fill="#ffcdd2"/>
<rect x="81" y="393.5" width="1" height="0.5" fill="#ffcdd2"/>
<rect x="83" y="393.5" width="1" height="0.5" fill="#ff5252"/>
<rect x="86" y="393.5" width="1" height="0.5" fill="#ff5252"/>
<rect x="89" y="393.5" width="1" height="0.5" fill="#ff5252"/>
<rect x="91" y="393.5" width="1" height="0.6" fill="#ff5252"/>
<rect x="94" y="393.5" width="1" height="0.6" fill="#ff5252"/>
<rect x="96" y="393.5" width="1" height="0.5" fill="#ffcdd2"/>
<rect x="99" y="393.5" width="1" height="0.8" fill="#ff5252"/>
<rect x="102" y="393.5" width="1" height="2.3" fill="#ff5252"/>
<rect x="104" y="393.5" width="1" height="3.0" fill="#ff5252"/>
<rect x="107" y="393.5" width="1" height="3.2" fill="#ff5252"/>
<rect x="110" y="393.5" width="1" height="3.0" fill="#ffcdd2"/>
<rect x="112" y="393.5" width="1" height="2.6" fill="#ffcdd2"/>
<rect x="115" y="393.5" width="1" height="2.3" fill="#ffcdd2"/>
<rect x="118" y="393.5" width="1" height="1.8" fill="#ffcdd2"/>
<rect x="120" y="393.5" width="1" height="1.8" fill="#ffcdd2"/>
<rect x="123" y="393.5" width="1" height="1.9" fill="#ff5252"/>
<rect x="126" y="393.5" width="1" height="2.2" fill="#ff5252"/>
<rect x="128" y="393.5" width="1" height="1.9" fill="#ffcdd2"/>
<rect x="131" y="393.5" width="1" height="1.8" fill="#ffcdd2"/>
<rect x="133" y="393.5" width="1" height="1.6" fill="#ffcdd2"/>
<rect x="136" y="393.5" width="1" height="1.1" fill="#ffcdd2"/>
<rect x="139" y="393.5" width="1" height="0.8" fill="#ffcdd2"/>
<rect x="141" y="393.5" width="1" height="0.6" fill="#ffcdd2"/>
<rect x="144" y="393.5" width="1" height="0.5" fill="#ffcdd2"/>
<rect x="147" y="393.5" width="1" height="0.5" fill="#ffcdd2"/>
<rect x="149" y="393.5" width="1" height="0.5" fill="#ff5252"/>
<rect x="152" y="393.3" width="1" height="0.5" fill="#26a69a"/>
<rect x="155" y="392.8" width="1" height="0.7" fill="#26a69a"/>
<rect x="157" y="391.9" width="1" height="1.6" fill="#26a69a"/>
<rect x="160" y="391.6" width="1" height="1.9" fill="#26a69a"/>
<rect x="163" y="391.4" width="1" height="2.1" fill="#26a69a"/>
<rect x="165" y="391.2" width="1" height="2.3" fill="#26a69a"/>
<rect x="168" y="392.1" width="1" height="1.4" fill="#b2dfdb"/>
<rect x="171" y="392.3" width="1" height="1.2" fill="#b2dfdb"/>
<rect x="173" y="393.1" width="1" height="0.5" fill="#b2dfdb"/>
<rect x="176" y="392.7" width="1" height="0.8" fill="#26a69a"/>
<rect x="178" y="391.6" width="1" height="1.9" fill="#26a69a"/>
<rect x="181" y="391.8" width="1" height="1.7" fill="#b2dfdb"/>
<rect x="184" y="391.0" width="1" height="2.5" fill="#26a69a"/>
<rect x="186" y="389.6" width="1" height="3.9" fill="#26a69a"/>
<rect x="189" y="390.0" width="1" height="3.5" fill="#b2dfdb"/>
<rect x="192" y="386.8" width="1" height="6.7" fill="#26a69a"/>
<rect x="194" y="384.5" width="1" height="9.0" fill="#26a69a"/>
<rect x="197" y="384.3" width="1" height="9.2" fill="#26a69a"/>
<rect x="200" y="384.6" width="1" height="8.9" fill="#b2dfdb"/>
<rect x="202" y="386.1" width="1" height="7.4" fill="#b2dfdb"/>
<rect x="205" y="388.4" width="1" height="5.1" fill="#b2dfdb"/>
<rect x="208" y="390.1" width="1" height="3.4" fill="#b2dfdb"/>
<rect x="210" y="390.1" width="1" height="3.4" fill="#b2dfdb"/>
<rect x="213" y="390.8" width="1" height="2.7" fill="#b2dfdb"/>
<rect x="216" y="391.6" width="1" height="1.9" fill="#b2dfdb"/>
<rect x="218" y="393.3" width="1" height="0.5" fill="#b2dfdb"/>
<rect x="221" y="393.5" width="1" height="0.5" fill="#ff5252"/>
<rect x="223" y="393.5" width="1" height="0.5" fill="#ff5252"/>
<rect x="226" y="393.5" width="1" height="0.5" fill="#ffcdd2"/>
<rect x="229" y="393.5" width="1" height="0.5" fill="#ffcdd2"/>
<rect x="231" y="392.8" width="1" height="0.7" fill="#26a69a"/>
<rect x="234" y="392.6" width="1" height="0.9" fill="#26a69a"/>
<rect x="237" y="392.0" width="1" height="1.5" fill="#26a69a"/>
<rect x="239" y="393.3" width="1" height="0.5" fill="#b2dfdb"/>
<rect x="242" y="393.5" width="1" height="0.9" fill="#ff5252"/>
<rect x="245" y="393.5" width="1" height="1.7" fill="#ff5252"/>
<rect x="247" y="393.5" width="1" height="2.6" fill="#ff5252"/>
<rect x="250" y="393.5" width="1" height="2.8" fill="#ff5252"/>
<rect x="253" y="393.5" width="1" height="3.1" fill="#ff5252"/>
<rect x="255" y="393.5" width="1" height="3.4" fill="#ff5252"/>
<rect x="258" y="393.5" width="1" height="3.5" fill="#ff5252"/>
<rect x="261" y="393.5" width="1" height="4.1" fill="#ff5252"/>
<rect x="263" y="393.5" width="1" height="4.8" fill="#ff5252"/>
<rect x="266" y="393.5" width="1" height="5.2" fill="#ff5252"/>
<rect x="268" y="393.5" width="1" height="4.8" fill="#ffcdd2"/>
<rect x="271" y="393.5" width="1" height="4.2" fill="#ffcdd2"/>
<rect x="274" y="393.5" width="1" height="3.6" fill="#ffcdd2"/>
<rect x="276" y="393.5" width="1" height="3.6" fill="#ff5252"/>
<rect x="279" y="393.5" width="1" height="3.1" fill="#ffcdd2"/>
<rect x="282" y="393.5" width="1" height="2.4" fill="#ffcdd2"/>
<rect x="284" y="393.5" width="1" height="2.2" fill="#ffcdd2"/>
<rect x="287" y="393.5" width="1" height="1.5" fill="#ffcdd2"/>
<rect x="290" y="393.5" width="1" height="1.2" fill="#ffcdd2"/>
<rect x="292" y="393.5" width="1" height="1.4" fill="#ff5252"/>
<rect x="295" y="393.5" width="1" height="1.2" fill="#ffcdd2"/>
<rect x="298" y="393.5" width="1" height="1.1" fill="#ffcdd2"/>
<rect x="300" y="393.5" width="1" height="1.4" fill="#ff5252"/>
<rect x="303" y="393.5" width="1" height="1.3" fill="#ffcdd2"/>
<rect x="306" y="392.9" width="1" height="0.6" fill="#26a69a"/>
<rect x="308" y="392.3" width="1" height="1.2" fill="#26a69a"/>
<rect x="311" y="392.7" width="1" height="0.8" fill="#b2dfdb"/>
<rect x="313" y="393.3" width="1" height="0.5" fill="#b2dfdb"/>
<rect x="316" y="393.5" width="1" height="2.1" fill="#ff5252"/>
<rect x="319" y="393.5" width="1" height="6.1" fill="#ff5252"/>
<rect x="321" y="393.5" width="1" height="5.9" fill="#ffcdd2"/>
<rect x="324" y="393.5" width="1" height="6.0" fill="#ff5252"/>
<rect x="327" y="393.5" width="1" height="6.5" fill="#ff5252"/>
<rect x="329" y="393.5" width="1" height="7.2" fill="#ff5252"/>
<rect x="332" y="393.5" width="1" height="5.9" fill="#ffcdd2"/>
<rect x="335" y="393.5" width="1" height="4.2" fill="#ffcdd2"/>
<rect x="337" y="393.5" width="1" height="3.4" fill="#ffcdd2"/>
<rect x="340" y="393.5" width="1" height="2.4" fill="#ffcdd2"/>
<rect x="343" y="393.5" width="1" height="1.5" fill="#ffcdd2"/>
<rect x="345" y="393.5" width="1" height="0.7" fill="#ffcdd2"/>
<rect x="348" y="393.5" width="1" height="0.9" fill="#ff5252"/>
<rect x="351" y="393.5" width="1" height="0.7" fill="#ffcdd2"/>
<rect x="353" y="393.5" width="1" height="0.5" fill="#ffcdd2"/>
<rect x="356" y="392.8" width="1" height="0.7" fill="#26a69a"/>
<rect x="358" y="391.6" width="1" height="1.9" fill="#26a69a"/>
<rect x="361" y="390.6" width="1" height="2.9" fill="#26a69a"/>
<rect x="364" y="390.5" width="1" height="3.0" fill="#26a69a"/>
<rect x="366" y="390.5" width="1" height="3.0" fill="#26a69a"/>
<rect x="369" y="390.8" width="1" height="2.7" fill="#b2dfdb"/>
<rect x="372" y="390.7" width="1" height="2.8" fill="#26a69a"/>
<rect x="374" y="390.5" width="1" height="3.0" fill="#26a69a"/>
<rect x="377" y="390.7" width="1" height="2.8" fill="#b2dfdb"/>
<rect x="380" y="391.0" width="1" height="2.5" fill="#b2dfdb"/>
<rect x="382" y="391.5" width="1" height="2.0" fill="#b2dfdb"/>
<rect x="385" y="391.8" width="1" height="1.7" fill="#b2dfdb"/>
<rect x="388" y="392.1" width="1" height="1.4" fill="#b2dfdb"/>
<rect x="390" y="392.3" width="1" height="1.2" fill="#b2dfdb"/>
<rect x="393" y="392.7" width="1" height="0.8" fill="#b2dfdb"/>
<rect x="395" y="392.5" width="1" height="1.0" fill="#26a69a"/>
<rect x="398" y="392.6" width="1" height="0.9" fill="#b2dfdb"/>
<rect x="401" y="392.7" width="1" height="0.8" fill="#b2dfdb"/>
<rect x="403" y="393.1" width="1" height="0.5" fill="#b2dfdb"/>
<rect x="406" y="393.1" width="1" height="0.5" fill="#26a69a"/>
<rect x="409" y="392.7" width="1" height="0.8" fill="#26a69a"/>
<rect x="411" y="392.9" width="1" height="0.6" fill="#b2dfdb"/>
<rect x="414" y="393.2" width="1" height="0.5" fill="#b2dfdb"/>
<rect x="417" y="393.5" width="1" height="0.9" fill="#ff5252"/>
<rect x="419" y="393.5" width="1" height="1.4" fill="#ff5252"/>
<rect x="422" y="393.5" width="1" height="1.8" fill="#ff5252"/>
<rect x="425" y="393.5" width="1" height="2.3" fill="#ff5252"/>
<rect x="427" y="393.5" width="1" height="2.2" fill="#ffcdd2"/>
<rect x="430" y="393.5" width="1" height="2.1" fill="#ffcdd2"/>
<rect x="433" y="393.5" width="1" height="1.7" fill="#ffcdd2"/>
<rect x="435" y="393.5" width="1" height="1.1" fill="#ffcdd2"/>
<rect x="438" y="393.5" width="1" height="0.7" fill="#ffcdd2"/>
<rect x="440" y="393.5" width="1" height="0.6" fill="#ffcdd2"/>
<rect x="443" y="393.2" width="1" height="0.5" fill="#26a69a"/>
<rect x="446" y="392.6" width="1" height="0.9" fill="#26a69a"/>
<rect x="448" y="392.5" width="1" height="1.0" fill="#26a69a"/>
<rect x="451" y="393.0" width="1" height="0.5" fill="#b2dfdb"/>
<rect x="454" y="393.2" width="1" height="0.5" fill="#b2dfdb"/>
<rect x="456" y="393.5" width="1" height="0.5" fill="#b2dfdb"/>
<rect x="459" y="393.5" width="1" height="0.5" fill="#ff5252"/>
<rect x="462" y="393.3" width="1" height="0.5" fill="#26a69a"/>
<rect x="464" y="393.2" width="1" height="0.5" fill="#26a69a"/>
<rect x="467" y="393.1" width="1" height="0.5" fill="#26a69a"/>
<rect x="470" y="393.3" width="1" height="0.5" fill="#b2dfdb"/>
<rect x="472" y="393.1" width="1" height="0.5" fill="#26a69a"/>
<rect x="475" y="393.0" width="1" height="0.5" fill="#26a69a"/>
<rect x="478" y="392.8" width="1" height="0.7" fill="#26a69a"/>
<rect x="480" y="392.6" width="1" height="0.9" fill="#26a69a"/>
<rect x="483" y="392.4" width="1" height="1.1" fill="#26a69a"/>
<rect x="485" y="391.4" width="1" height="2.1" fill="#26a69a"/>
<rect x="488" y="390.7" width="1" height="2.8" fill="#26a69a"/>
<rect x="491" y="390.2" width="1" height="3.3" fill="#26a69a"/>
<rect x="493" y="389.7" width="1" height="3.8" fill="#26a69a"/>
<rect x="496" y="390.0" width="1" height="3.5" fill="#b2dfdb"/>
<rect x="499" y="390.2" width="1" height="3.3" fill="#b2dfdb"/>
<rect x="501" y="390.5" width="1" height="3.0" fill="#b2dfdb"/>
<rect x="504" y="391.3" width="1" height="2.2" fill="#b2dfdb"/>
<rect x="507" y="391.3" width="1" height="2.2" fill="#b2dfdb"/>
<rect x="509" y="390.7" width="1" height="2.8" fill="#26a69a"/>
<rect x="512" y="391.0" width="1" height="2.5" fill="#b2dfdb"/>
<rect x="515" y="391.3" width="1" height="2.2" fill="#b2dfdb"/>
<rect x="517" y="390.9" width="1" height="2.6" fill="#26a69a"/>
<rect x="520" y="391.4" width="1" height="2.1" fill="#b2dfdb"/>
<rect x="523" y="391.9" width="1" height="1.6" fill="#b2dfdb"/>
<rect x="525" y="392.2" width="1" height="1.3" fill="#b2dfdb"/>
<rect x="528" y="392.4" width="1" height="1.1" fill="#b2dfdb"/>
<rect x="530" y="392.7" width="1" height="0.8" fill="#b2dfdb"/>
<rect x="533" y="392.9" width="1" height="0.6" fill="#b2dfdb"/>
<rect x="536" y="393.5" width="1" height="0.5" fill="#ff5252"/>
<rect x="538" y="393.5" width="1" height="0.6" fill="#ff5252"/>
<rect x="541" y="393.5" width="1" height="0.5" fill="#ffcdd2"/>
<rect x="544" y="393.5" width="1" height="0.5" fill="#ff5252"/>
<rect x="546" y="393.5" width="1" height="0.6" fill="#ff5252"/>
<rect x="549" y="393.5" width="1" height="0.7" fill="#ff5252"/>
<rect x="552" y="393.5" width="1" height="1.2" fill="#ff5252"/>
<rect x="554" y="393.5" width="1" height="1.6" fill="#ff5252"/>
<rect x="557" y="393.5" width="1" height="1.5" fill="#ffcdd2"/>
<rect x="560" y="393.5" width="1" height="1.6" fill="#ff5252"/>
<rect x="562" y="393.5" width="1" height="2.1" fill="#ff5252"/>
<rect x="565" y="393.5" width="1" height="2.4" fill="#ff5252"/>
<rect x="568" y="393.5" width="1" height="2.4" fill="#ff5252"/>
<rect x="570" y="393.5" width="1" height="2.6" fill="#ff5252"/>
<rect x="573" y="393.5" width="1" height="2.8" fill="#ff5252"/>
<rect x="575" y="393.5" width="1" height="2.4" fill="#ffcdd2"/>
<rect x="578" y="393.5" width="1" height="1.3" fill="#ffcdd2"/>
<rect x="581" y="393.5" width="1" height="1.2" fill="#ffcdd2"/>
<rect x="583" y="393.5" width="1" height="0.6" fill="#ffcdd2"/>
<rect x="586" y="393.5" width="1" height="0.5" fill="#ffcdd2"/>
<rect x="589" y="393.5" width="1" height="0.5" fill="#ff5252"/>
<rect x="591" y="393.4" width="1" height="0.5" fill="#26a69a"/>
<rect x="594" y="393.5" width="1" height="0.5" fill="#b2dfdb"/>
<rect x="597" y="393.3" width="1" height="0.5" fill="#26a69a"/>
<rect x="599" y="393.5" width="1" height="0.5" fill="#b2dfdb"/>
<rect x="602" y="393.5" width="1" height="0.5" fill="#ff5252"/>
<rect x="605" y="393.5" width="1" height="0.6" fill="#ff5252"/>
<rect x="607" y="393.5" width="1" height="0.7" fill="#ff5252"/>
<rect x="610" y="393.5" width="1" height="0.7" fill="#ffcdd2"/>
<rect x="613" y="393.5" width="1" height="0.6" fill="#ffcdd2"/>
<rect x="615" y="393.5" width="1" height="0.5" fill="#ffcdd2"/>
<rect x="618" y="393.5" width="1" height="0.5" fill="#ff5252"/>
<rect x="620" y="393.5" width="1" height="0.6" fill="#ff5252"/>
<rect x="623" y="393.5" width="1" height="0.7" fill="#ff5252"/>
<rect x="626" y="393.5" width="1" height="0.9" fill="#ff5252"/>
<rect x="628" y="393.5" width="1" height="0.8" fill="#ffcdd2"/>
<rect x="631" y="393.5" width="1" height="0.5" fill="#ffcdd2"/>
<rect x="634" y="393.3" width="1" height="0.5" fill="#26a69a"/>
<rect x="636" y="393.5" width="1" height="0.5" fill="#ff5252"/>
<rect x="639" y="393.5" width="1" height="0.5" fill="#ff5252"/>
<rect x="642" y="393.5" width="1" height="0.5" fill="#ff5252"/>
<rect x="644" y="393.5" width="1" height="0.5" fill="#ffcdd2"/>
<rect x="647" y="393.5" width="1" height="0.5" fill="#ffcdd2"/>
<rect x="650" y="393.5" width="1" height="0.5" fill="#26a69a"/>
<rect x="652" y="393.5" width="1" height="0.5" fill="#ff5252"/>
<rect x="655" y="393.5" width="1" height="0.5" fill="#ffcdd2"/>
<rect x="658" y="393.2" width="1" height="0.5" fill="#26a69a"/>
<rect x="660" y="393.1" width="1" height="0.5" fill="#26a69a"/>
<rect x="663" y="392.6" width="1" height="0.9" fill="#26a69a"/>
<rect x="665" y="392.8" width="1" height="0.7" fill="#b2dfdb"/>
<rect x="668" y="389.5" width="1" height="4.0" fill="#26a69a"/>
<rect x="671" y="389.4" width="1" height="4.1" fill="#26a69a"/>
<rect x="673" y="388.7" width="1" height="4.8" fill="#26a69a"/>
<rect x="676" y="389.2" width="1" height="4.3" fill="#b2dfdb"/>
<rect x="679" y="389.2" width="1" height="4.3" fill="#26a69a"/>
<rect x="681" y="389.4" width="1" height="4.1" fill="#b2dfdb"/>
<rect x="684" y="388.5" width="1" height="5.0" fill="#26a69a"/>
<rect x="687" y="387.0" width="1" height="6.5" fill="#26a69a"/>
<rect x="689" y="385.6" width="1" height="7.9" fill="#26a69a"/>
<rect x="692" y="385.6" width="1" height="7.9" fill="#b2dfdb"/>
<rect x="695" y="385.7" width="1" height="7.8" fill="#b2dfdb"/>
<rect x="697" y="387.5" width="1" height="6.0" fill="#b2dfdb"/>
<rect x="700" y="388.8" width="1" height="4.7" fill="#b2dfdb"/>
<rect x="702" y="390.7" width="1" height="2.8" fill="#b2dfdb"/>
<rect x="705" y="391.9" width="1" height="1.6" fill="#b2dfdb"/>
<rect x="708" y="392.8" width="1" height="0.7" fill="#b2dfdb"/>
<rect x="710" y="393.5" width="1" height="0.5" fill="#ff5252"/>
<rect x="713" y="393.5" width="1" height="0.5" fill="#ff5252"/>
<rect x="716" y="393.5" width="1" height="1.2" fill="#ff5252"/>
<rect x="718" y="393.5" width="1" height="1.5" fill="#ff5252"/>
<rect x="721" y="393.5" width="1" height="1.5" fill="#ffcdd2"/>
<rect x="724" y="393.5" width="1" height="1.6" fill="#ff5252"/>
<rect x="726" y="393.5" width="1" height="2.1" fill="#ff5252"/>
<rect x="729" y="393.5" width="1" height="2.2" fill="#ff5252"/>
<rect x="732" y="393.5" width="1" height="1.9" fill="#ffcdd2"/>
<rect x="734" y="393.5" width="1" height="1.9" fill="#ffcdd2"/>
<rect x="737" y="393.5" width="1" height="1.8" fill="#ffcdd2"/>
<rect x="740" y="393.5" width="1" height="2.1" fill="#ff5252"/>
<rect x="742" y="393.5" width="1" height="1.6" fill="#ffcdd2"/>
<rect x="745" y="393.5" width="1" height="2.7" fill="#ff5252"/>
<rect x="747" y="393.5" width="1" height="4.2" fill="#ff5252"/>
<rect x="750" y="393.5" width="1" height="5.7" fill="#ff5252"/>
<rect x="753" y="393.5" width="1" height="5.6" fill="#ffcdd2"/>
<rect x="755" y="393.5" width="1" height="5.7" fill="#ff5252"/>
<rect x="758" y="393.5" width="1" height="5.6" fill="#ffcdd2"/>
<rect x="761" y="393.5" width="1" height="4.8" fill="#ffcdd2"/>
<rect x="763" y="393.5" width="1" height="4.5" fill="#ffcdd2"/>
<rect x="766" y="393.5" width="1" height="3.8" fill="#ffcdd2"/>
<rect x="769" y="393.5" width="1" height="2.8" fill="#ffcdd2"/>
<rect x="771" y="393.5" width="1" height="2.1" fill="#ffcdd2"/>
<rect x="774" y="393.5" width="1" height="1.8" fill="#ffcdd2"/>
<rect x="777" y="393.5" width="1" height="1.7" fill="#ffcdd2"/>
<rect x="779" y="393.5" width="1" height="1.7" fill="#ffcdd2"/>
<rect x="782" y="393.5" width="1" height="1.6" fill="#ffcdd2"/>
<rect x="785" y="393.5" width="1" height="1.4" fill="#ffcdd2"/>
<rect x="787" y="393.5" width="1" height="0.9" fill="#ffcdd2"/>
<rect x="790" y="393.5" width="1" height="0.9" fill="#ffcdd2"/>
<rect x="792" y="393.5" width="1" height="1.2" fill="#ff5252"/>
<rect x="795" y="393.5" width="1" height="2.0" fill="#ff5252"/>
<rect x="798" y="393.5" width="1" height="2.3" fill="#ff5252"/>
<rect x="800" y="393.5" width="1" height="2.3" fill="#ffcdd2"/>
<rect x="803" y="393.5" width="1" height="2.5" fill="#ff5252"/>
<rect x="806" y="393.5" width="1" height="2.4" fill="#ffcdd2"/>
<rect x="808" y="393.5" width="1" height="2.1" fill="#ffcdd2"/>
<rect x="811" y="393.5" width="1" height="1.7" fill="#ffcdd2"/>
<rect x="814" y="393.5" width="1" height="1.3" fill="#ffcdd2"/>
<rect x="816" y="393.5" width="1" height="0.5" fill="#ffcdd2"/>
<rect x="819" y="392.9" width="1" height="0.6" fill="#26a69a"/>
<rect x="822" y="392.0" width="1" height="1.5" fill="#26a69a"/>
<rect x="824" y="391.1" width="1" height="2.4" fill="#26a69a"/>
<rect x="827" y="390.6" width="1" height="2.9" fill="#26a69a"/>
<rect x="830" y="390.8" width="1" height="2.7" fill="#b2dfdb"/>
<rect x="832" y="390.9" width="1" height="2.6" fill="#b2dfdb"/>
<rect x="835" y="390.9" width="1" height="2.6" fill="#b2dfdb"/>
<rect x="837" y="391.5" width="1" height="2.0" fill="#b2dfdb"/>
<rect x="840" y="391.8" width="1" height="1.7" fill="#b2dfdb"/>
<rect x="843" y="391.7" width="1" height="1.8" fill="#26a69a"/>
<rect x="845" y="391.5" width="1" height="2.0" fill="#26a69a"/>
<rect x="848" y="391.1" width="1" height="2.4" fill="#26a69a"/>
<rect x="851" y="390.6" width="1" height="2.9" fill="#26a69a"/>
<rect x="853" y="389.5" width="1" height="4.0" fill="#26a69a"/>
<rect x="856" y="389.2" width="1" height="4.3" fill="#26a69a"/>
<rect x="859" y="389.2" width="1" height="4.3" fill="#b2dfdb"/>
<rect x="861" y="389.2" width="1" height="4.3" fill="#b2dfdb"/>
<rect x="864" y="389.8" width="1" height="3.7" fill="#b2dfdb"/>
<rect x="867" y="389.7" width="1" height="3.8" fill="#26a69a"/>
<rect x="869" y="390.9" width="1" height="2.6" fill="#b2dfdb"/>
<rect x="872" y="391.0" width="1" height="2.5" fill="#b2dfdb"/>
<rect x="875" y="391.4" width="1" height="2.1" fill="#b2dfdb"/>
<rect x="877" y="392.0" width="1" height="1.5" fill="#b2dfdb"/>
<rect x="880" y="392.0" width="1" height="1.5" fill="#26a69a"/>
<rect x="882" y="393.3" width="1" height="0.5" fill="#b2dfdb"/>
<rect x="885" y="393.5" width="1" height="0.5" fill="#ff5252"/>
<rect x="888" y="393.5" width="1" height="0.5" fill="#ff5252"/>
<rect x="890" y="393.5" width="1" height="0.8" fill="#ff5252"/>
<rect x="893" y="393.5" width="1" height="2.4" fill="#ff5252"/>
<rect x="896" y="393.5" width="1" height="3.3" fill="#ff5252"/>
<rect x="898" y="393.5" width="1" height="4.0" fill="#ff5252"/>
<rect x="901" y="393.5" width="1" height="4.2" fill="#ff5252"/>
<rect x="904" y="393.5" width="1" height="3.9" fill="#ffcdd2"/>
<rect x="906" y="393.5" width="1" height="3.2" fill="#ffcdd2"/>
<rect x="909" y="393.5" width="1" height="2.8" fill="#ffcdd2"/>
<rect x="912" y="393.5" width="1" height="2.1" fill="#ffcdd2"/>
<rect x="914" y="393.5" width="1" height="1.8" fill="#ffcdd2"/>
<rect x="917" y="393.5" width="1" height="1.4" fill="#ffcdd2"/>
<rect x="920" y="393.5" width="1" height="1.4" fill="#ff5252"/>
<rect x="922" y="393.5" width="1" height="1.3" fill="#ffcdd2"/>
<rect x="925" y="393.5" width="1" height="1.5" fill="#ff5252"/>
<rect x="927" y="393.5" width="1" height="1.4" fill="#ffcdd2"/>
<rect x="930" y="393.5" width="1" height="1.9" fill="#ff5252"/>
<rect x="933" y="393.5" width="1" height="1.8" fill="#ffcdd2"/>
<rect x="935" y="393.5" width="1" height="1.7" fill="#ffcdd2"/>
<rect x="938" y="393.5" width="1" height="1.4" fill="#ffcdd2"/>
<rect x="941" y="393.5" width="1" height="0.7" fill="#ffcdd2"/>
<rect x="943" y="393.5" width="1" height="0.5" fill="#ffcdd2"/>
<rect x="946" y="393.4" width="1" height="0.5" fill="#26a69a"/>
<rect x="949" y="393.5" width="1" height="0.5" fill="#ff5252"/>
<rect x="951" y="393.5" width="1" height="0.7" fill="#ff5252"/>
<rect x="954" y="393.5" width="1" height="0.8" fill="#ff5252"/>
<rect x="957" y="393.5" width="1" height="0.7" fill="#ffcdd2"/>
<rect x="959" y="393.5" width="1" height="0.7" fill="#ffcdd2"/>
<rect x="962" y="393.5" width="1" height="0.5" fill="#ffcdd2"/>
<rect x="964" y="393.5" width="1" height="0.5" fill="#ffcdd2"/>
<rect x="967" y="393.5" width="1" height="0.5" fill="#ffcdd2"/>
<rect x="970" y="381.5" width="1" height="12.0" fill="#26a69a"/>
<rect x="972" y="378.0" width="1" height="15.5" fill="#26a69a"/>
<rect x="975" y="376.8" width="1" height="16.7" fill="#26a69a"/>
<rect x="978" y="375.8" width="1" height="17.7" fill="#26a69a"/>
<rect x="980" y="376.6" width="1" height="16.9" fill="#b2dfdb"/>
<rect x="983" y="376.6" width="1" height="16.9" fill="#b2dfdb"/>
<rect x="986" y="376.4" width="1" height="17.1" fill="#26a69a"/>
<rect x="988" y="378.3" width="1" height="15.2" fill="#b2dfdb"/>
<rect x="991" y="381.2" width="1" height="12.3" fill="#b2dfdb"/>
<rect x="994" y="385.4" width="1" height="8.1" fill="#b2dfdb"/>
<rect x="996" y="388.5" width="1" height="5.0" fill="#b2dfdb"/>
<rect x="999" y="392.4" width="1" height="1.1" fill="#b2dfdb"/>
<rect x="1002" y="393.5" width="1" height="1.5" fill="#ff5252"/>
<rect x="1004" y="393.5" width="1" height="3.1" fill="#ff5252"/>
<rect x="1007" y="393.5" width="1" height="4.3" fill="#ff5252"/>
<rect x="1009" y="393.5" width="1" height="5.2" fill="#ff5252"/>
<rect x="1012" y="393.5" width="1" height="5.8" fill="#ff5252"/>
<rect x="1015" y="393.5" width="1" height="6.4" fill="#ff5252"/>
<rect x="1017" y="393.5" width="1" height="6.9" fill="#ff5252"/>
<rect x="1020" y="393.5" width="1" height="6.8" fill="#ffcdd2"/>
<rect x="1023" y="393.5" width="1" height="7.4" fill="#ff5252"/>
<rect x="1025" y="393.5" width="1" height="8.5" fill="#ff5252"/>
<rect x="1028" y="393.5" width="1" height="9.8" fill="#ff5252"/>
<rect x="1031" y="393.5" width="1" height="10.7" fill="#ff5252"/>
<rect x="1033" y="393.5" width="1" height="10.8" fill="#ff5252"/>
<rect x="1036" y="393.5" width="1" height="10.5" fill="#ffcdd2"/>
<rect x="1039" y="393.5" width="1" height="9.1" fill="#ffcdd2"/>
<rect x="1041" y="393.5" width="1" height="7.8" fill="#ffcdd2"/>
<rect x="1044" y="393.5" width="1" height="7.1" fill="#ffcdd2"/>
<rect x="1047" y="393.5" width="1" height="6.5" fill="#ffcdd2"/>
<rect x="1049" y="393.5" width="1" height="5.8" fill="#ffcdd2"/>
<rect x="1052" y="393.5" width="1" height="5.1" fill="#ffcdd2"/>
<rect x="1054" y="393.5" width="1" height="4.2" fill="#ffcdd2"/>
<rect x="1057" y="393.5" width="1" height="4.2" fill="#ffcdd2"/>
<rect x="1060" y="393.5" width="1" height="4.7" fill="#ff5252"/>
<rect x="1062" y="393.5" width="1" height="7.7" fill="#ff5252"/>
<rect x="1065" y="393.5" width="1" height="9.1" fill="#ff5252"/>
<rect x="1068" y="393.5" width="1" height="8.8" fill="#ffcdd2"/>
<rect x="1070" y="393.5" width="1" height="7.5" fill="#ffcdd2"/>
<rect x="1073" y="393.5" width="1" height="6.8" fill="#ffcdd2"/>
<rect x="1076" y="393.5" width="1" height="6.0" fill="#ffcdd2"/>
<rect x="1078" y="393.5" width="1" height="4.7" fill="#ffcdd2"/>
<rect x="1081" y="393.5" width="1" height="3.9" fill="#ffcdd2"/>
<rect x="1084" y="393.5" width="1" height="3.2" fill="#ffcdd2"/>
</g>
<line x1="10.00" y1="393.50" x2="1150.00" y2="393.50" stroke="#9598a1" stroke-width="1" stroke-dasharray="5 6" stroke-opacity="0.85"/>
<path d="M11.8,395.7 L14.4,394.9 L17.0,393.1 L19.7,391.4 L22.3,390.6 L25.0,389.7 L27.6,389.6 L30.3,389.3 L32.9,389.3 L35.6,390.4 L38.2,391.1 L40.9,390.8 L43.5,389.9 L46.2,389.8 L48.8,388.7 L51.5,388.2 L54.1,387.9 L56.7,388.1 L59.4,388.4 L62.0,388.5 L64.7,388.5 L67.3,388.7 L70.0,388.9 L72.6,388.8 L75.3,389.3 L77.9,389.2 L80.6,389.1 L83.2,389.2 L85.9,389.4 L88.5,389.6 L91.2,389.9 L93.8,390.1 L96.4,390.2 L99.1,390.7 L101.7,392.7 L104.4,394.1 L107.0,395.1 L109.7,395.7 L112.3,396.0 L115.0,396.3 L117.6,396.2 L120.3,396.6 L122.9,397.2 L125.6,398.1 L128.2,398.2 L130.8,398.6 L133.5,398.8 L136.1,398.6 L138.8,398.5 L141.4,398.4 L144.1,398.3 L146.7,398.0 L149.4,398.2 L152.0,397.7 L154.7,397.1 L157.3,395.8 L160.0,394.9 L162.6,394.2 L165.3,393.4 L167.9,394.0 L170.5,393.9 L173.2,394.7 L175.8,394.0 L178.5,392.5 L181.1,392.2 L183.8,390.8 L186.4,388.4 L189.1,387.9 L191.7,383.1 L194.4,378.5 L197.0,376.0 L199.7,374.1 L202.3,373.8 L205.0,374.8 L207.6,375.6 L210.2,374.8 L212.9,374.8 L215.5,375.2 L218.2,376.8 L220.8,377.6 L223.5,377.7 L226.1,377.6 L228.8,377.4 L231.4,376.5 L234.1,376.0 L236.7,375.1 L239.4,376.2 L242.0,377.7 L244.6,378.9 L247.3,380.4 L249.9,381.4 L252.6,382.4 L255.2,383.6 L257.9,384.5 L260.5,386.1 L263.2,388.1 L265.8,389.8 L268.5,390.6 L271.1,391.1 L273.8,391.3 L276.4,392.2 L279.1,392.5 L281.7,392.5 L284.3,392.8 L287.0,392.5 L289.6,392.5 L292.3,393.0 L294.9,393.1 L297.6,393.2 L300.2,393.9 L302.9,394.1 L305.5,392.1 L308.2,391.2 L310.8,391.4 L313.5,391.9 L316.1,394.8 L318.8,400.4 L321.4,401.5 L324.0,403.2 L326.7,405.3 L329.3,407.8 L332.0,408.0 L334.6,407.4 L337.3,407.4 L339.9,407.0 L342.6,406.4 L345.2,405.8 L347.9,406.3 L350.5,406.2 L353.2,405.6 L355.8,404.7 L358.4,403.0 L361.1,401.3 L363.7,400.4 L366.4,399.6 L369.0,399.3 L371.7,398.5 L374.3,397.6 L377.0,397.1 L379.6,396.8 L382.3,396.7 L384.9,396.6 L387.6,396.6 L390.2,396.5 L392.9,396.6 L395.5,396.2 L398.1,396.1 L400.8,396.0 L403.4,396.3 L406.1,396.2 L408.7,395.6 L411.4,395.6 L414.0,395.9 L416.7,397.3 L419.3,398.2 L422.0,399.0 L424.6,400.1 L427.3,400.5 L429.9,400.9 L432.5,400.9 L435.2,400.6 L437.8,400.4 L440.5,400.4 L443.1,399.5 L445.8,398.6 L448.4,398.3 L451.1,398.7 L453.7,398.8 L456.4,399.1 L459.0,399.3 L461.7,398.9 L464.3,398.7 L467.0,398.5 L469.6,398.6 L472.2,398.3 L474.9,398.1 L477.5,397.7 L480.2,397.3 L482.8,396.8 L485.5,395.3 L488.1,393.9 L490.8,392.5 L493.4,391.1 L496.1,390.6 L498.7,390.0 L501.4,389.5 L504.0,389.7 L506.7,389.2 L509.3,387.9 L511.9,387.5 L514.6,387.4 L517.2,386.3 L519.9,386.2 L522.5,386.3 L525.2,386.4 L527.8,386.3 L530.5,386.4 L533.1,386.4 L535.8,387.5 L538.4,387.8 L541.1,387.7 L543.7,388.0 L546.3,388.2 L549.0,388.4 L551.6,389.2 L554.3,390.1 L556.9,390.4 L559.6,390.8 L562.2,391.9 L564.9,392.7 L567.5,393.4 L570.2,394.3 L572.8,395.2 L575.5,395.3 L578.1,394.6 L580.8,394.7 L583.4,394.3 L586.0,394.1 L588.7,394.2 L591.3,393.8 L594.0,393.8 L596.6,393.6 L599.3,393.8 L601.9,394.3 L604.6,394.6 L607.2,395.0 L609.9,395.2 L612.5,395.1 L615.2,395.0 L617.8,395.3 L620.5,395.5 L623.1,395.7 L625.7,396.2 L628.4,396.3 L631.0,396.0 L633.7,395.3 L636.3,395.6 L639.0,395.8 L641.6,396.2 L644.3,396.0 L646.9,395.9 L649.6,395.8 L652.2,396.2 L654.9,396.3 L657.5,395.6 L660.1,395.4 L662.8,394.7 L665.4,394.7 L668.1,390.4 L670.7,389.3 L673.4,387.4 L676.0,386.9 L678.7,385.7 L681.3,384.9 L684.0,382.7 L686.6,379.7 L689.3,376.2 L691.9,374.3 L694.6,372.5 L697.2,372.8 L699.8,372.8 L702.5,374.0 L705.1,374.9 L707.8,375.6 L710.4,376.7 L713.1,377.0 L715.7,378.0 L718.4,378.7 L721.0,379.1 L723.7,379.6 L726.3,380.7 L729.0,381.2 L731.6,381.4 L734.3,381.8 L736.9,382.2 L739.5,383.1 L742.2,382.9 L744.8,384.7 L747.5,387.3 L750.1,390.1 L752.8,391.4 L755.4,393.0 L758.1,394.3 L760.7,394.7 L763.4,395.5 L766.0,395.8 L768.7,395.4 L771.3,395.3 L773.9,395.5 L776.6,395.8 L779.2,396.2 L781.9,396.5 L784.5,396.6 L787.2,396.4 L789.8,396.6 L792.5,397.1 L795.1,398.5 L797.8,399.3 L800.4,399.9 L803.1,400.7 L805.7,401.2 L808.4,401.5 L811.0,401.5 L813.6,401.4 L816.3,400.6 L818.9,399.5 L821.6,398.2 L824.2,396.7 L826.9,395.5 L829.5,395.0 L832.2,394.4 L834.8,393.8 L837.5,393.8 L840.1,393.8 L842.8,393.2 L845.4,392.4 L848.1,391.5 L850.7,390.2 L853.3,388.2 L856.0,386.8 L858.6,385.7 L861.3,384.7 L863.9,384.3 L866.6,383.3 L869.2,383.8 L871.9,383.3 L874.5,383.2 L877.2,383.4 L879.8,383.0 L882.5,384.3 L885.1,384.7 L887.7,385.0 L890.4,385.6 L893.0,387.8 L895.7,389.5 L898.3,391.2 L901.0,392.5 L903.6,393.1 L906.3,393.3 L908.9,393.5 L911.6,393.4 L914.2,393.5 L916.9,393.4 L919.5,393.9 L922.2,394.0 L924.8,394.6 L927.4,394.8 L930.1,395.9 L932.7,396.1 L935.4,396.5 L938.0,396.6 L940.7,396.1 L943.3,395.5 L946.0,395.3 L948.6,395.5 L951.3,396.2 L953.9,396.6 L956.6,396.7 L959.2,396.8 L961.8,396.6 L964.5,396.4 L967.1,396.3 L969.8,381.3 L972.4,373.9 L975.1,368.6 L977.7,363.1 L980.4,359.7 L983.0,355.5 L985.7,350.9 L988.3,349.1 L991.0,348.9 L993.6,351.1 L996.3,353.0 L998.9,356.6 L1001.5,359.5 L1004.2,361.9 L1006.8,364.2 L1009.5,366.4 L1012.1,368.5 L1014.8,370.6 L1017.4,372.9 L1020.1,374.5 L1022.7,376.9 L1025.4,380.1 L1028.0,383.9 L1030.7,387.5 L1033.3,390.3 L1036.0,392.6 L1038.6,393.4 L1041.2,394.2 L1043.9,395.2 L1046.5,396.2 L1049.2,397.0 L1051.8,397.6 L1054.5,397.7 L1057.1,398.7 L1059.8,400.5 L1062.4,405.3 L1065.1,409.0 L1067.7,410.9 L1070.4,411.5 L1073.0,412.5 L1075.6,413.2 L1078.3,413.0 L1080.9,413.2 L1083.6,413.3" fill="none" stroke="#2962ff" stroke-width="1.2" stroke-opacity="1" stroke-linejoin="round" stroke-linecap="butt" />
<path d="M11.8,398.2 L14.4,397.5 L17.0,396.6 L19.7,395.6 L22.3,394.6 L25.0,393.6 L27.6,392.8 L30.3,392.1 L32.9,391.6 L35.6,391.3 L38.2,391.3 L40.9,391.2 L43.5,390.9 L46.2,390.7 L48.8,390.3 L51.5,389.9 L54.1,389.5 L56.7,389.2 L59.4,389.1 L62.0,388.9 L64.7,388.8 L67.3,388.8 L70.0,388.8 L72.6,388.8 L75.3,388.9 L77.9,389.0 L80.6,389.0 L83.2,389.1 L85.9,389.1 L88.5,389.2 L91.2,389.4 L93.8,389.5 L96.4,389.7 L99.1,389.9 L101.7,390.4 L104.4,391.2 L107.0,392.0 L109.7,392.7 L112.3,393.4 L115.0,393.9 L117.6,394.4 L120.3,394.8 L122.9,395.3 L125.6,395.9 L128.2,396.3 L130.8,396.8 L133.5,397.2 L136.1,397.5 L138.8,397.7 L141.4,397.8 L144.1,397.9 L146.7,397.9 L149.4,398.0 L152.0,397.9 L154.7,397.8 L157.3,397.4 L160.0,396.9 L162.6,396.4 L165.3,395.8 L167.9,395.4 L170.5,395.1 L173.2,395.0 L175.8,394.8 L178.5,394.4 L181.1,393.9 L183.8,393.3 L186.4,392.3 L189.1,391.4 L191.7,389.8 L194.4,387.5 L197.0,385.2 L199.7,383.0 L202.3,381.1 L205.0,379.9 L207.6,379.0 L210.2,378.2 L212.9,377.5 L215.5,377.0 L218.2,377.0 L220.8,377.1 L223.5,377.2 L226.1,377.3 L228.8,377.3 L231.4,377.2 L234.1,376.9 L236.7,376.6 L239.4,376.5 L242.0,376.7 L244.6,377.2 L247.3,377.8 L249.9,378.5 L252.6,379.3 L255.2,380.1 L257.9,381.0 L260.5,382.0 L263.2,383.2 L265.8,384.6 L268.5,385.8 L271.1,386.8 L273.8,387.7 L276.4,388.6 L279.1,389.4 L281.7,390.0 L284.3,390.6 L287.0,390.9 L289.6,391.2 L292.3,391.6 L294.9,391.9 L297.6,392.2 L300.2,392.5 L302.9,392.8 L305.5,392.7 L308.2,392.4 L310.8,392.2 L313.5,392.1 L316.1,392.7 L318.8,394.2 L321.4,395.7 L324.0,397.2 L326.7,398.8 L329.3,400.6 L332.0,402.1 L334.6,403.1 L337.3,404.0 L339.9,404.6 L342.6,405.0 L345.2,405.1 L347.9,405.4 L350.5,405.5 L353.2,405.5 L355.8,405.4 L358.4,404.9 L361.1,404.2 L363.7,403.4 L366.4,402.7 L369.0,402.0 L371.7,401.3 L374.3,400.6 L377.0,399.9 L379.6,399.3 L382.3,398.7 L384.9,398.3 L387.6,398.0 L390.2,397.7 L392.9,397.5 L395.5,397.2 L398.1,397.0 L400.8,396.8 L403.4,396.7 L406.1,396.6 L408.7,396.4 L411.4,396.2 L414.0,396.2 L416.7,396.4 L419.3,396.8 L422.0,397.2 L424.6,397.8 L427.3,398.3 L429.9,398.8 L432.5,399.3 L435.2,399.5 L437.8,399.7 L440.5,399.8 L443.1,399.8 L445.8,399.5 L448.4,399.3 L451.1,399.2 L453.7,399.1 L456.4,399.1 L459.0,399.1 L461.7,399.1 L464.3,399.0 L467.0,398.9 L469.6,398.8 L472.2,398.7 L474.9,398.6 L477.5,398.4 L480.2,398.2 L482.8,397.9 L485.5,397.4 L488.1,396.7 L490.8,395.9 L493.4,394.9 L496.1,394.0 L498.7,393.2 L501.4,392.5 L504.0,391.9 L506.7,391.4 L509.3,390.7 L511.9,390.1 L514.6,389.5 L517.2,388.9 L519.9,388.3 L522.5,387.9 L525.2,387.6 L527.8,387.4 L530.5,387.2 L533.1,387.0 L535.8,387.1 L538.4,387.2 L541.1,387.3 L543.7,387.5 L546.3,387.6 L549.0,387.8 L551.6,388.1 L554.3,388.5 L556.9,388.9 L559.6,389.3 L562.2,389.8 L564.9,390.4 L567.5,391.0 L570.2,391.6 L572.8,392.3 L575.5,392.9 L578.1,393.3 L580.8,393.6 L583.4,393.7 L586.0,393.8 L588.7,393.9 L591.3,393.9 L594.0,393.9 L596.6,393.8 L599.3,393.8 L601.9,393.9 L604.6,394.0 L607.2,394.2 L609.9,394.4 L612.5,394.6 L615.2,394.7 L617.8,394.8 L620.5,394.9 L623.1,395.1 L625.7,395.3 L628.4,395.5 L631.0,395.6 L633.7,395.5 L636.3,395.5 L639.0,395.6 L641.6,395.7 L644.3,395.8 L646.9,395.8 L649.6,395.8 L652.2,395.9 L654.9,395.9 L657.5,395.9 L660.1,395.8 L662.8,395.6 L665.4,395.4 L668.1,394.4 L670.7,393.4 L673.4,392.2 L676.0,391.1 L678.7,390.0 L681.3,389.0 L684.0,387.8 L686.6,386.1 L689.3,384.2 L691.9,382.2 L694.6,380.3 L697.2,378.8 L699.8,377.6 L702.5,376.9 L705.1,376.5 L707.8,376.3 L710.4,376.4 L713.1,376.5 L715.7,376.8 L718.4,377.2 L721.0,377.6 L723.7,378.0 L726.3,378.5 L729.0,379.1 L731.6,379.5 L734.3,380.0 L736.9,380.4 L739.5,381.0 L742.2,381.4 L744.8,382.0 L747.5,383.1 L750.1,384.5 L752.8,385.9 L755.4,387.3 L758.1,388.7 L760.7,389.9 L763.4,391.0 L766.0,392.0 L768.7,392.7 L771.3,393.2 L773.9,393.6 L776.6,394.1 L779.2,394.5 L781.9,394.9 L784.5,395.2 L787.2,395.5 L789.8,395.7 L792.5,396.0 L795.1,396.5 L797.8,397.0 L800.4,397.6 L803.1,398.2 L805.7,398.8 L808.4,399.4 L811.0,399.8 L813.6,400.1 L816.3,400.2 L818.9,400.1 L821.6,399.7 L824.2,399.1 L826.9,398.4 L829.5,397.7 L832.2,397.0 L834.8,396.4 L837.5,395.9 L840.1,395.4 L842.8,395.0 L845.4,394.5 L848.1,393.9 L850.7,393.2 L853.3,392.2 L856.0,391.1 L858.6,390.0 L861.3,389.0 L863.9,388.0 L866.6,387.1 L869.2,386.4 L871.9,385.8 L874.5,385.3 L877.2,384.9 L879.8,384.5 L882.5,384.5 L885.1,384.5 L887.7,384.6 L890.4,384.8 L893.0,385.4 L895.7,386.2 L898.3,387.2 L901.0,388.3 L903.6,389.2 L906.3,390.1 L908.9,390.8 L911.6,391.3 L914.2,391.7 L916.9,392.1 L919.5,392.4 L922.2,392.7 L924.8,393.1 L927.4,393.5 L930.1,393.9 L932.7,394.4 L935.4,394.8 L938.0,395.1 L940.7,395.3 L943.3,395.4 L946.0,395.4 L948.6,395.4 L951.3,395.6 L953.9,395.8 L956.6,395.9 L959.2,396.1 L961.8,396.2 L964.5,396.2 L967.1,396.3 L969.8,393.3 L972.4,389.4 L975.1,385.2 L977.7,380.8 L980.4,376.6 L983.0,372.4 L985.7,368.1 L988.3,364.3 L991.0,361.2 L993.6,359.2 L996.3,357.9 L998.9,357.7 L1001.5,358.0 L1004.2,358.8 L1006.8,359.9 L1009.5,361.2 L1012.1,362.6 L1014.8,364.2 L1017.4,366.0 L1020.1,367.7 L1022.7,369.5 L1025.4,371.6 L1028.0,374.1 L1030.7,376.8 L1033.3,379.5 L1036.0,382.1 L1038.6,384.4 L1041.2,386.3 L1043.9,388.1 L1046.5,389.7 L1049.2,391.2 L1051.8,392.5 L1054.5,393.5 L1057.1,394.5 L1059.8,395.7 L1062.4,397.6 L1065.1,399.9 L1067.7,402.1 L1070.4,404.0 L1073.0,405.7 L1075.6,407.2 L1078.3,408.4 L1080.9,409.3 L1083.6,410.1" fill="none" stroke="#f23645" stroke-width="1.2" stroke-opacity="1" stroke-linejoin="round" stroke-linecap="butt" />
<line x1="10.00" y1="435.50" x2="1150.00" y2="435.50" stroke="#5d606b" stroke-width="1.1" stroke-dasharray="5 6"/>
<line x1="10.00" y1="463.50" x2="1150.00" y2="463.50" stroke="#787b86" stroke-width="1" stroke-dasharray="5 6" stroke-opacity="0.5"/>
<line x1="10.00" y1="491.50" x2="1150.00" y2="491.50" stroke="#5d606b" stroke-width="1.1" stroke-dasharray="5 6"/>
<path d="M10.1,446.8 L14.4,443.6 L18.6,438.3 L22.8,437.9 L27.1,450.0 L29.2,452.8 L33.5,447.2 L37.7,448.5 L41.9,450.0 L46.2,446.8 L49.4,442.6 L53.6,453.2 L57.8,460.6 L61.0,463.4 L65.3,457.4 L69.5,455.3 L73.7,448.9 L78.0,448.5 L81.2,450.0 L86.0,471.2 L89.7,467.6 L93.9,464.8 L97.1,456.4 L99.2,457.0 L102.4,471.2 L105.6,472.7 L107.3,469.7 L109.8,474.4 L111.9,470.1 L115.1,471.8 L118.3,472.7 L123.6,480.1 L126.8,478.6 L128.5,473.3 L131.0,473.3 L134.2,476.9 L139.5,459.5 L142.0,458.5 L144.8,460.0 L146.9,460.0 L150.5,469.7 L154.3,469.1 L157.5,453.2 L161.8,448.9 L166.0,450.6 L169.2,455.3 L173.4,464.8 L176.6,462.7 L180.9,446.8 L187.2,428.8 L190.4,425.2 L194.2,423.5 L196.8,432.0 L199.9,430.9 L202.1,436.2 L207.4,443.0 L212.7,440.0 L215.8,442.6 L221.1,451.5 L226.5,455.3 L231.8,461.7 L233.9,454.9 L237.1,455.3 L241.3,452.1 L244.9,446.8 L246.6,457.4 L251.9,456.1 L252.4,456.4 L257.7,452.8 L260.9,457.4 L265.1,469.7 L269.4,475.0 L275.8,473.3 L280.0,465.9 L282.1,464.2 L284.2,453.6 L286.4,455.7 L289.5,451.5 L294.8,453.2 L298.0,450.0 L299.7,450.0 L303.3,440.9 L307.6,439.4 L310.7,445.8 L313.9,446.8 L316.0,461.7 L319.2,470.6 L323.5,464.2 L328.8,469.7 L334.1,460.6 L339.4,458.5 L344.7,461.7 L350.6,465.5 L353.2,456.4 L356.3,447.9 L360.6,447.4 L365.9,448.3 L369.1,457.4 L371.8,457.8 L374.0,453.8 L377.6,458.5 L381.8,467.0 L385.0,463.8 L388.2,461.2 L391.3,469.7 L395.6,476.5 L398.1,488.2 L403.0,486.0 L406.2,484.4 L408.7,484.6 L411.1,491.4 L416.8,493.0 L421.0,493.0 L424.9,494.5 L427.0,487.1 L429.5,486.7 L432.7,489.2 L434.8,485.0 L440.1,481.8 L443.3,476.1 L450.3,475.0 L453.9,471.8 L458.8,466.5 L461.3,469.7 L463.5,470.6 L466.6,460.6 L469.4,465.9 L473.0,464.2 L476.2,464.2 L478.3,465.9 L480.0,461.7 L483.0,467.0 L484.7,459.5 L487.8,452.8 L488.4,452.1 L491.5,446.8 L493.7,440.0 L495.8,443.0 L499.4,431.5 L502.1,437.3 L504.3,441.5 L507.5,438.3 L511.7,438.8 L514.9,436.6 L517.0,437.9 L520.2,438.3 L523.4,444.7 L527.6,451.1 L529.7,467.0 L532.9,458.5 L536.1,474.4 L540.3,454.2 L542.4,454.2 L545.6,459.5 L549.9,462.7 L552.6,463.8 L554.1,474.0 L556.2,468.0 L560.0,464.2 L562.6,467.0 L565.8,467.0 L570.0,471.8 L573.2,469.7 L577.4,475.4 L580.6,482.4 L582.7,476.5 L585.5,478.2 L588.7,476.1 L591.2,465.5 L594.4,472.7 L597.6,475.4 L599.7,473.3 L604.0,477.6 L608.2,474.4 L613.5,474.4 L617.7,474.4 L619.9,481.8 L625.8,481.8 L628.3,490.9 L634.3,466.3 L638.9,472.7 L644.2,480.7 L649.6,468.0 L651.7,471.8 L654.9,472.3 L657.0,464.8 L659.1,462.7 L662.3,458.5 L664.4,459.5 L668.0,453.2 L671.2,464.8 L672.9,457.4 L676.1,455.7 L680.3,443.6 L683.5,441.5 L688.8,434.5 L692.0,440.5 L694.1,440.0 L697.3,446.4 L700.5,446.8 L704.7,453.6 L707.9,446.8 L710.0,449.4 L713.2,445.8 L717.4,450.0 L721.7,454.2 L725.9,469.7 L728.5,460.6 L731.0,457.4 L733.8,451.1 L737.0,455.7 L739.1,454.2 L741.8,446.4 L745.0,463.8 L747.6,467.0 L750.1,472.3 L752.9,469.1 L755.6,469.1 L758.2,467.0 L762.4,473.3 L765.6,474.0 L768.4,478.6 L770.9,476.5 L775.8,475.9 L779.0,482.4 L782.6,474.4 L786.8,462.1 L789.6,467.0 L791.7,467.0 L795.3,479.7 L797.4,479.7 L800.2,478.2 L803.1,483.9 L805.3,485.4 L808.0,489.2 L811.2,486.0 L815.4,475.4 L818.6,464.8 L820.7,459.5 L823.9,458.5 L826.7,454.9 L829.2,454.2 L832.4,451.1 L835.6,446.8 L838.8,444.7 L842.0,445.1 L845.1,442.1 L848.3,440.9 L852.6,436.6 L855.7,436.2 L857.9,442.1 L862.5,441.5 L865.9,436.6 L869.1,446.4 L871.6,445.8 L874.8,439.4 L878.0,437.3 L880.1,437.3 L882.2,450.0 L886.5,450.6 L889.7,450.6 L892.9,457.4 L898.2,462.1 L902.4,463.4 L906.2,452.8 L909.2,458.5 L913.4,458.5 L916.8,462.7 L919.4,451.5 L921.9,451.5 L924.7,454.9 L927.2,466.5 L930.0,463.8 L932.1,457.4 L937.4,458.5 L942.7,457.4 L945.9,451.5 L948.6,459.5 L951.2,468.4 L954.4,465.5 L956.5,460.0 L959.2,464.8 L961.8,455.7 L964.5,456.4 L967.3,456.4 L969.2,430.3 L971.5,451.1 L974.5,460.6 L976.8,456.4 L980.0,460.6 L982.6,458.5 L984.7,453.2 L987.9,458.5 L992.1,460.6 L996.4,462.7 L1000.6,465.5 L1003.8,463.8 L1007.0,477.6 L1011.8,463.8 L1014.4,472.3 L1016.5,471.2 L1019.3,477.6 L1021.8,497.7 L1025.0,494.5 L1029.2,493.9 L1033.0,489.2 L1035.6,488.2 L1038.1,479.7 L1040.9,479.1 L1044.1,486.7 L1048.3,486.7 L1053.6,476.9 L1056.8,476.9 L1060.0,482.4 L1064.2,486.7 L1069.5,477.6 L1072.7,478.0 L1075.9,485.0 L1078.4,488.2 L1082.3,487.5" fill="none" stroke="#7e57c2" stroke-width="1.2" stroke-opacity="1" stroke-linejoin="round" stroke-linecap="butt" />
<rect x="9.9" y="5.95" width="1206.2" height="524.95" fill="none" stroke="#e9eaf1" stroke-width="2"/>
<text x="17.9" y="24.7" font-size="12" fill="#20242f" font-weight="normal" textLength="20.1" lengthAdjust="spacingAndGlyphs" stroke="#20242f" stroke-width="0.3" font-family="Liberation Sans, sans-serif" >XRP</text>
<text x="43.4" y="24.7" font-size="12" fill="#20242f" font-weight="normal" textLength="3.4" lengthAdjust="spacingAndGlyphs" stroke="#20242f" stroke-width="0.3" font-family="Liberation Sans, sans-serif" >/</text>
<text x="52.7" y="24.7" font-size="12" fill="#20242f" font-weight="normal" textLength="20.5" lengthAdjust="spacingAndGlyphs" stroke="#20242f" stroke-width="0.3" font-family="Liberation Sans, sans-serif" >U.S.</text>
<text x="78.1" y="24.7" font-size="12" fill="#20242f" font-weight="normal" textLength="32.8" lengthAdjust="spacingAndGlyphs" stroke="#20242f" stroke-width="0.3" font-family="Liberation Sans, sans-serif" >Dollar,</text>
<text x="116.8" y="24.7" font-size="12" fill="#20242f" font-weight="normal" textLength="16.1" lengthAdjust="spacingAndGlyphs" stroke="#20242f" stroke-width="0.3" font-family="Liberation Sans, sans-serif" >1D,</text>
<text x="138.2" y="24.7" font-size="12" fill="#20242f" font-weight="normal" textLength="47.0" lengthAdjust="spacingAndGlyphs" stroke="#20242f" stroke-width="0.3" font-family="Liberation Sans, sans-serif" >BITFINEX</text>
<text x="192.5" y="24.7" font-size="12" fill="#20242f" font-weight="normal" textLength="7.4" lengthAdjust="spacingAndGlyphs" stroke="#20242f" stroke-width="0.3" font-family="Liberation Sans, sans-serif" >O</text>
<text x="200.0" y="24.7" font-size="12" fill="#f23645" font-weight="normal" textLength="42.2" lengthAdjust="spacingAndGlyphs" stroke="#f23645" stroke-width="0.3" font-family="Liberation Sans, sans-serif" >0.51876</text>
<text x="250.5" y="24.7" font-size="12" fill="#20242f" font-weight="normal" textLength="7.5" lengthAdjust="spacingAndGlyphs" stroke="#20242f" stroke-width="0.3" font-family="Liberation Sans, sans-serif" >H</text>
<text x="258.5" y="24.7" font-size="12" fill="#f23645" font-weight="normal" textLength="41.4" lengthAdjust="spacingAndGlyphs" stroke="#f23645" stroke-width="0.3" font-family="Liberation Sans, sans-serif" >0.52122</text>
<text x="307.9" y="24.7" font-size="12" fill="#20242f" font-weight="normal" textLength="5.3" lengthAdjust="spacingAndGlyphs" stroke="#20242f" stroke-width="0.3" font-family="Liberation Sans, sans-serif" >L</text>
<text x="313.6" y="24.7" font-size="12" fill="#f23645" font-weight="normal" textLength="41.1" lengthAdjust="spacingAndGlyphs" stroke="#f23645" stroke-width="0.3" font-family="Liberation Sans, sans-serif" >0.51368</text>
<text x="362.7" y="24.7" font-size="12" fill="#20242f" font-weight="normal" textLength="6.6" lengthAdjust="spacingAndGlyphs" stroke="#20242f" stroke-width="0.3" font-family="Liberation Sans, sans-serif" >C</text>
<text x="369.8" y="24.7" font-size="12" fill="#f23645" font-weight="normal" textLength="41.4" lengthAdjust="spacingAndGlyphs" stroke="#f23645" stroke-width="0.3" font-family="Liberation Sans, sans-serif" >0.51429</text>
<text x="419.8" y="24.7" font-size="12" fill="#f23645" font-weight="normal" textLength="97.1" lengthAdjust="spacingAndGlyphs" stroke="#f23645" stroke-width="0.3" font-family="Liberation Sans, sans-serif" >−0.00491 (−0.95%)</text>
<text x="18.4" y="41.6" font-size="12" fill="#20242f" font-weight="normal" textLength="21.5" lengthAdjust="spacingAndGlyphs" stroke="#20242f" stroke-width="0.3" font-family="Liberation Sans, sans-serif" >EMA</text>
<text x="44.8" y="41.6" font-size="12" fill="#20242f" font-weight="normal" textLength="17.6" lengthAdjust="spacingAndGlyphs" stroke="#20242f" stroke-width="0.3" font-family="Liberation Sans, sans-serif" >(50,</text>
<text x="68.8" y="41.6" font-size="12" fill="#20242f" font-weight="normal" textLength="30.4" lengthAdjust="spacingAndGlyphs" stroke="#20242f" stroke-width="0.3" font-family="Liberation Sans, sans-serif" >close,</text>
<text x="105.0" y="41.6" font-size="12" fill="#20242f" font-weight="normal" textLength="20.1" lengthAdjust="spacingAndGlyphs" stroke="#20242f" stroke-width="0.3" font-family="Liberation Sans, sans-serif" >100,</text>
<text x="131.3" y="41.6" font-size="12" fill="#20242f" font-weight="normal" textLength="30.4" lengthAdjust="spacingAndGlyphs" stroke="#20242f" stroke-width="0.3" font-family="Liberation Sans, sans-serif" >close,</text>
<text x="166.6" y="41.6" font-size="12" fill="#20242f" font-weight="normal" textLength="21.5" lengthAdjust="spacingAndGlyphs" stroke="#20242f" stroke-width="0.3" font-family="Liberation Sans, sans-serif" >200,</text>
<text x="193.5" y="41.6" font-size="12" fill="#20242f" font-weight="normal" textLength="30.8" lengthAdjust="spacingAndGlyphs" stroke="#20242f" stroke-width="0.3" font-family="Liberation Sans, sans-serif" >close)</text>
<text x="232.0" y="41.6" font-size="12" fill="#f23645" font-weight="normal" textLength="41.6" lengthAdjust="spacingAndGlyphs" stroke="#f23645" stroke-width="0.3" font-family="Liberation Sans, sans-serif" >0.59335</text>
<text x="281.9" y="41.6" font-size="12" fill="#3179f5" font-weight="normal" textLength="40.8" lengthAdjust="spacingAndGlyphs" stroke="#3179f5" stroke-width="0.3" font-family="Liberation Sans, sans-serif" >0.56881</text>
<text x="331.3" y="41.6" font-size="12" fill="#ab47bc" font-weight="normal" textLength="42.3" lengthAdjust="spacingAndGlyphs" stroke="#ab47bc" stroke-width="0.3" font-family="Liberation Sans, sans-serif" >0.52530</text>
<text x="18.0" y="364.0" font-size="12" fill="#20242f" font-weight="normal" textLength="29.1" lengthAdjust="spacingAndGlyphs" stroke="#20242f" stroke-width="0.3" font-family="Liberation Sans, sans-serif" >MACD</text>
<text x="53.1" y="364.0" font-size="12" fill="#20242f" font-weight="normal" textLength="20.1" lengthAdjust="spacingAndGlyphs" stroke="#20242f" stroke-width="0.3" font-family="Liberation Sans, sans-serif" >(12,</text>
<text x="77.2" y="364.0" font-size="12" fill="#20242f" font-weight="normal" textLength="14.1" lengthAdjust="spacingAndGlyphs" stroke="#20242f" stroke-width="0.3" font-family="Liberation Sans, sans-serif" >26,</text>
<text x="97.3" y="364.0" font-size="12" fill="#20242f" font-weight="normal" textLength="27.1" lengthAdjust="spacingAndGlyphs" stroke="#20242f" stroke-width="0.3" font-family="Liberation Sans, sans-serif" >close,</text>
<text x="132.8" y="364.0" font-size="12" fill="#20242f" font-weight="normal" textLength="7.6" lengthAdjust="spacingAndGlyphs" stroke="#20242f" stroke-width="0.3" font-family="Liberation Sans, sans-serif" >9,</text>
<text x="147.4" y="364.0" font-size="12" fill="#20242f" font-weight="normal" textLength="24.1" lengthAdjust="spacingAndGlyphs" stroke="#20242f" stroke-width="0.3" font-family="Liberation Sans, sans-serif" >EMA,</text>
<text x="177.5" y="364.0" font-size="12" fill="#20242f" font-weight="normal" textLength="25.1" lengthAdjust="spacingAndGlyphs" stroke="#20242f" stroke-width="0.3" font-family="Liberation Sans, sans-serif" >EMA)</text>
<text x="211.6" y="364.0" font-size="12" fill="#ffcdd2" font-weight="normal" textLength="46.4" lengthAdjust="spacingAndGlyphs" stroke="#ffcdd2" stroke-width="0.3" font-family="Liberation Sans, sans-serif" >−0.00591</text>
<text x="267.7" y="364.0" font-size="12" fill="#2962ff" font-weight="normal" textLength="46.9" lengthAdjust="spacingAndGlyphs" stroke="#2962ff" stroke-width="0.3" font-family="Liberation Sans, sans-serif" >−0.03667</text>
<text x="322.6" y="364.0" font-size="12" fill="#f23645" font-weight="normal" textLength="47.4" lengthAdjust="spacingAndGlyphs" stroke="#f23645" stroke-width="0.3" font-family="Liberation Sans, sans-serif" >−0.03076</text>
<text x="18.2" y="437.7" font-size="12" fill="#20242f" font-weight="normal" textLength="16.3" lengthAdjust="spacingAndGlyphs" stroke="#20242f" stroke-width="0.3" font-family="Liberation Sans, sans-serif" >MFI</text>
<text x="40.9" y="437.7" font-size="12" fill="#20242f" font-weight="normal" textLength="19.1" lengthAdjust="spacingAndGlyphs" stroke="#20242f" stroke-width="0.3" font-family="Liberation Sans, sans-serif" >(14)</text>
<text x="69.1" y="437.7" font-size="12" fill="#7e57c2" font-weight="normal" textLength="28.4" lengthAdjust="spacingAndGlyphs" stroke="#7e57c2" stroke-width="0.3" font-family="Liberation Sans, sans-serif" >23.95</text>
<text x="1158.2" y="64.9" font-size="12" fill="#20242f" font-weight="normal" textLength="41.8" lengthAdjust="spacingAndGlyphs" stroke="#20242f" stroke-width="0.3" font-family="Liberation Sans, sans-serif" >0.80000</text>
<text x="1158.2" y="99.7" font-size="12" fill="#20242f" font-weight="normal" textLength="41.8" lengthAdjust="spacingAndGlyphs" stroke="#20242f" stroke-width="0.3" font-family="Liberation Sans, sans-serif" >0.70000</text>
<text x="1158.2" y="140.4" font-size="12" fill="#20242f" font-weight="normal" textLength="41.8" lengthAdjust="spacingAndGlyphs" stroke="#20242f" stroke-width="0.3" font-family="Liberation Sans, sans-serif" >0.60000</text>
<text x="1158.2" y="247.20000000000002" font-size="12" fill="#20242f" font-weight="normal" textLength="41.8" lengthAdjust="spacingAndGlyphs" stroke="#20242f" stroke-width="0.3" font-family="Liberation Sans, sans-serif" >0.40000</text>
<text x="1158.2" y="290.0" font-size="12" fill="#20242f" font-weight="normal" textLength="41.8" lengthAdjust="spacingAndGlyphs" stroke="#20242f" stroke-width="0.3" font-family="Liberation Sans, sans-serif" >0.34000</text>
<text x="1158.2" y="322.90000000000003" font-size="12" fill="#20242f" font-weight="normal" textLength="41.8" lengthAdjust="spacingAndGlyphs" stroke="#20242f" stroke-width="0.3" font-family="Liberation Sans, sans-serif" >0.30000</text>
<text x="1158.2" y="397.8" font-size="12" fill="#20242f" font-weight="normal" textLength="41.8" lengthAdjust="spacingAndGlyphs" stroke="#20242f" stroke-width="0.3" font-family="Liberation Sans, sans-serif" >0.00000</text>
<text x="1158.2" y="439.90000000000003" font-size="12" fill="#20242f" font-weight="normal" textLength="29.0" lengthAdjust="spacingAndGlyphs" stroke="#20242f" stroke-width="0.3" font-family="Liberation Sans, sans-serif" >80.00</text>
<text x="1158.2" y="476.8" font-size="12" fill="#20242f" font-weight="normal" textLength="29.0" lengthAdjust="spacingAndGlyphs" stroke="#20242f" stroke-width="0.3" font-family="Liberation Sans, sans-serif" >40.00</text>
<text x="45.1" y="520.8" font-size="12" fill="#20242f" font-weight="normal" textLength="19.1" lengthAdjust="spacingAndGlyphs" stroke="#20242f" stroke-width="0.3" font-family="Liberation Sans, sans-serif" >Aug</text>
<text x="126.8" y="520.8" font-size="12" fill="#20242f" font-weight="normal" textLength="19.1" lengthAdjust="spacingAndGlyphs" stroke="#20242f" stroke-width="0.3" font-family="Liberation Sans, sans-serif" >Sep</text>
<text x="288.0" y="520.8" font-size="12" fill="#20242f" font-weight="normal" textLength="19.6" lengthAdjust="spacingAndGlyphs" stroke="#20242f" stroke-width="0.3" font-family="Liberation Sans, sans-serif" >Nov</text>
<text x="446.0" y="520.8" font-size="12" fill="#20242f" font-weight="bold" textLength="26.4" lengthAdjust="spacingAndGlyphs" stroke="#20242f" stroke-width="0.3" font-family="Liberation Sans, sans-serif" >2023</text>
<text x="531.4" y="520.8" font-size="12" fill="#20242f" font-weight="normal" textLength="19.5" lengthAdjust="spacingAndGlyphs" stroke="#20242f" stroke-width="0.3" font-family="Liberation Sans, sans-serif" >Feb</text>
<text x="688.2" y="520.8" font-size="12" fill="#20242f" font-weight="normal" textLength="17.6" lengthAdjust="spacingAndGlyphs" stroke="#20242f" stroke-width="0.3" font-family="Liberation Sans, sans-serif" >Apr</text>
<text x="849.4" y="520.8" font-size="12" fill="#20242f" font-weight="normal" textLength="18.0" lengthAdjust="spacingAndGlyphs" stroke="#20242f" stroke-width="0.3" font-family="Liberation Sans, sans-serif" >Jun</text>
<text x="1010.6" y="520.8" font-size="12" fill="#20242f" font-weight="normal" textLength="18.6" lengthAdjust="spacingAndGlyphs" stroke="#20242f" stroke-width="0.3" font-family="Liberation Sans, sans-serif" >Aug</text>
<text x="1092.9" y="520.8" font-size="12" fill="#20242f" font-weight="normal" textLength="18.6" lengthAdjust="spacingAndGlyphs" stroke="#20242f" stroke-width="0.3" font-family="Liberation Sans, sans-serif" >Sep</text>
<rect x="1153.5" y="9.5" width="58.5" height="25" rx="4" fill="#fff" stroke="#e0e3eb"/>
<text x="1163.3" y="26.7" font-size="12" fill="#20242f" font-weight="normal" textLength="19.8" lengthAdjust="spacingAndGlyphs" stroke="#20242f" stroke-width="0.3" font-family="Liberation Sans, sans-serif" >USD</text>
<path d="M1150,168 H1208 a2,2 0 0 1 2,2 V196.8 a2,2 0 0 1 -2,2 H1150 Z" fill="#f23645"/>
<text x="1158.2" y="181.0" font-size="12" fill="#fff" font-weight="normal" textLength="41.8" lengthAdjust="spacingAndGlyphs" stroke="#fff" stroke-width="0.3" font-family="Liberation Sans, sans-serif" >0.51429</text>
<text x="1159.2" y="194.6" font-size="12" fill="#fff" font-weight="normal" textLength="44.9" lengthAdjust="spacingAndGlyphs" stroke="#fff" stroke-width="0.3" font-family="Liberation Sans, sans-serif" fill-opacity="0.85">18:53:22</text>
<circle cx="1083.5" cy="331.3" r="9.5" fill="#fff" stroke="#9c27b0" stroke-width="1.5"/>
<path d="M1086.8,326 L1079,331.4 L1083.15,332 L1080,336.7 L1087.8,331.2 L1083.8,330.8 Z" fill="#9c27b0" stroke="#9c27b0" stroke-width="0.5" stroke-linejoin="round"/>
<g fill="#131722"><path d="M10,543.2 h8.4 v9.6 h-4.3 v-5.6 h-4.1 z"/><circle cx="20.8" cy="545.2" r="1.7"/><path d="M23.9,543.2 h5.5 l-3.9,9.6 h-5.3 z"/></g>
<text x="34.3" y="552.8" font-size="13" fill="#20242f" font-weight="normal" textLength="69.1" lengthAdjust="spacingAndGlyphs" stroke="#20242f" stroke-width="0.3" font-family="Liberation Sans, sans-serif" >TradingView</text></svg>
</body></html>
